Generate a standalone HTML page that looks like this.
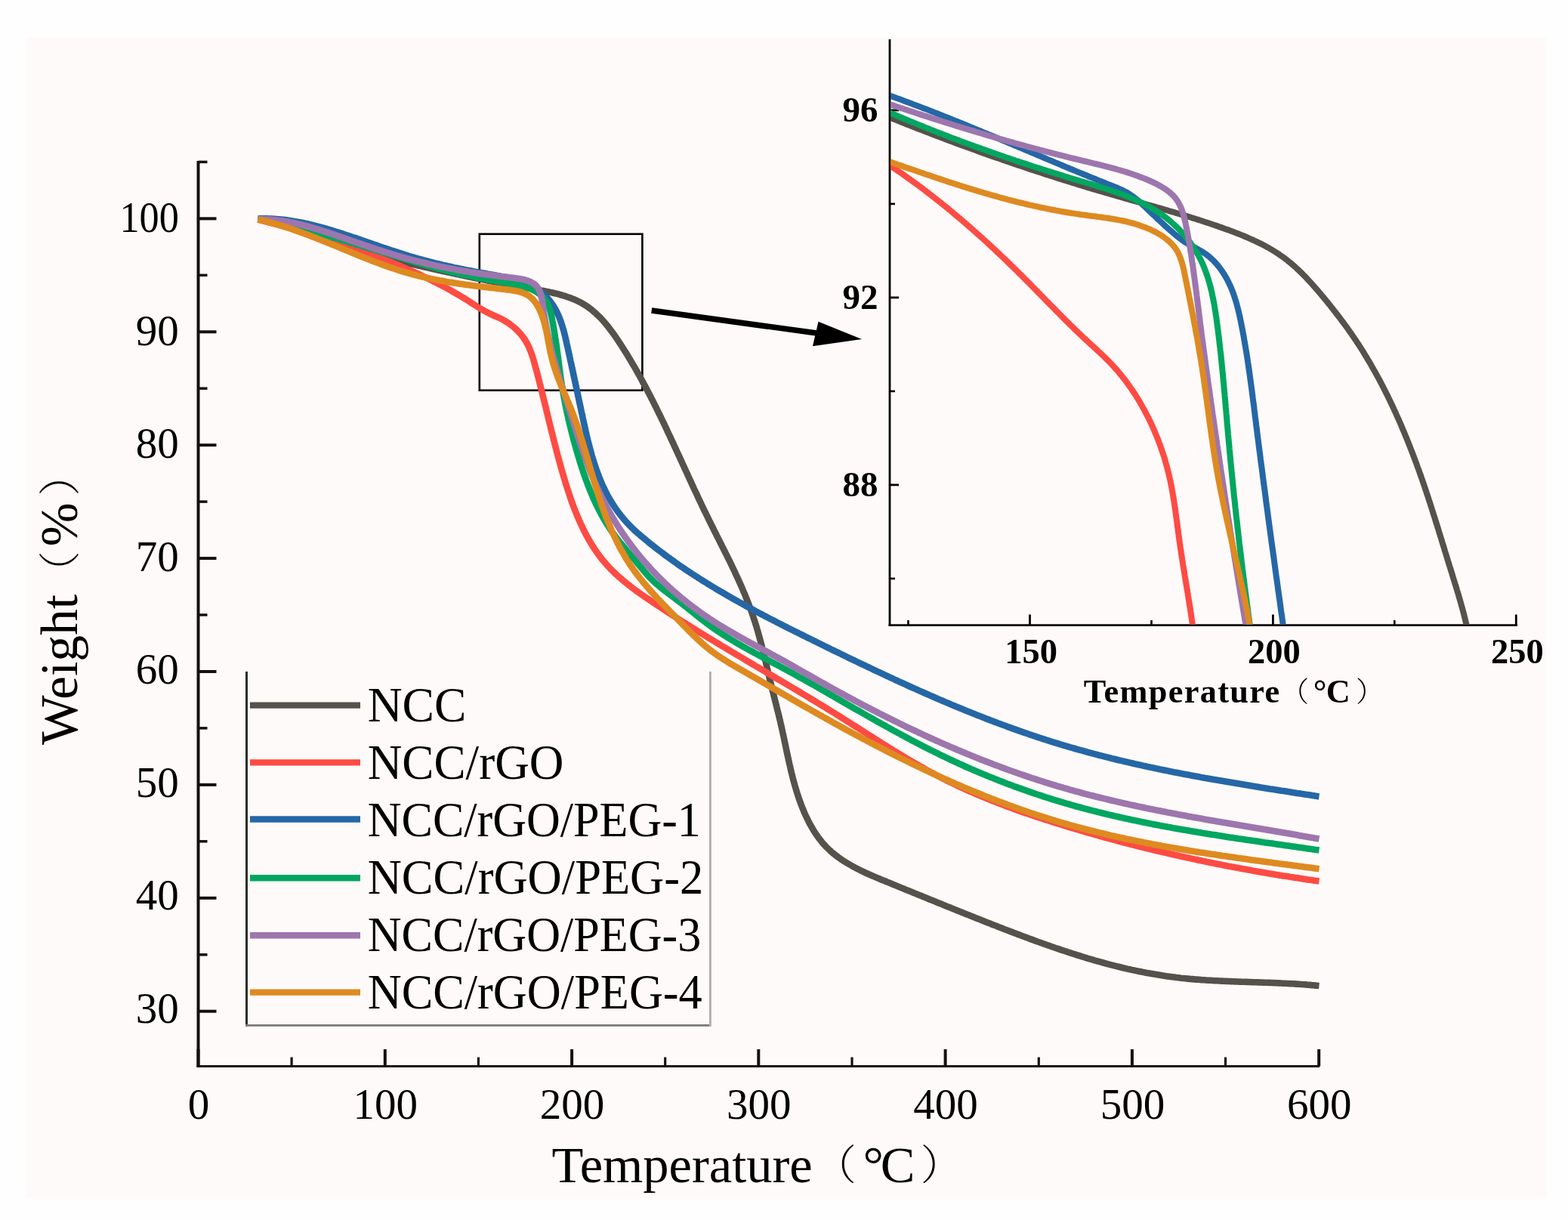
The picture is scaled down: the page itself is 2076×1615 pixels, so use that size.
<!DOCTYPE html><html><head><meta charset="utf-8"><title>TGA curves</title><style>html,body{margin:0;padding:0;background:#fefefe;}svg{display:block}</style></head><body>
<svg width="2076" height="1615" viewBox="0 0 2076 1615">
<rect x="0" y="0" width="2076" height="1615" fill="#fefefe"/>
<rect x="35" y="49" width="2013" height="1537" fill="#fefaf9"/>
<g stroke="#111" fill="none">
<line x1="262.5" y1="213" x2="262.5" y2="1413" stroke-width="4"/>
<line x1="260.5" y1="1411.5" x2="1747" y2="1411.5" stroke-width="3.2"/>
<line x1="262.5" y1="1338.7" x2="286.5" y2="1338.7" stroke-width="4"/>
<line x1="262.5" y1="1263.8" x2="274.5" y2="1263.8" stroke-width="3.5"/>
<line x1="262.5" y1="1188.8" x2="286.5" y2="1188.8" stroke-width="4"/>
<line x1="262.5" y1="1113.8" x2="274.5" y2="1113.8" stroke-width="3.5"/>
<line x1="262.5" y1="1038.9" x2="286.5" y2="1038.9" stroke-width="4"/>
<line x1="262.5" y1="963.9" x2="274.5" y2="963.9" stroke-width="3.5"/>
<line x1="262.5" y1="889.0" x2="286.5" y2="889.0" stroke-width="4"/>
<line x1="262.5" y1="814.0" x2="274.5" y2="814.0" stroke-width="3.5"/>
<line x1="262.5" y1="739.1" x2="286.5" y2="739.1" stroke-width="4"/>
<line x1="262.5" y1="664.1" x2="274.5" y2="664.1" stroke-width="3.5"/>
<line x1="262.5" y1="589.2" x2="286.5" y2="589.2" stroke-width="4"/>
<line x1="262.5" y1="514.2" x2="274.5" y2="514.2" stroke-width="3.5"/>
<line x1="262.5" y1="439.3" x2="286.5" y2="439.3" stroke-width="4"/>
<line x1="262.5" y1="364.3" x2="274.5" y2="364.3" stroke-width="3.5"/>
<line x1="262.5" y1="289.4" x2="286.5" y2="289.4" stroke-width="4"/>
<line x1="262.5" y1="214.4" x2="274.5" y2="214.4" stroke-width="3.5"/>
<line x1="262.5" y1="1411.5" x2="262.5" y2="1389" stroke-width="4"/>
<line x1="386.1" y1="1411.5" x2="386.1" y2="1399.5" stroke-width="3.2"/>
<line x1="509.8" y1="1411.5" x2="509.8" y2="1389" stroke-width="4"/>
<line x1="633.4" y1="1411.5" x2="633.4" y2="1399.5" stroke-width="3.2"/>
<line x1="757.1" y1="1411.5" x2="757.1" y2="1389" stroke-width="4"/>
<line x1="880.7" y1="1411.5" x2="880.7" y2="1399.5" stroke-width="3.2"/>
<line x1="1004.3" y1="1411.5" x2="1004.3" y2="1389" stroke-width="4"/>
<line x1="1128.0" y1="1411.5" x2="1128.0" y2="1399.5" stroke-width="3.2"/>
<line x1="1251.6" y1="1411.5" x2="1251.6" y2="1389" stroke-width="4"/>
<line x1="1375.3" y1="1411.5" x2="1375.3" y2="1399.5" stroke-width="3.2"/>
<line x1="1498.9" y1="1411.5" x2="1498.9" y2="1389" stroke-width="4"/>
<line x1="1622.5" y1="1411.5" x2="1622.5" y2="1399.5" stroke-width="3.2"/>
<line x1="1746.2" y1="1411.5" x2="1746.2" y2="1389" stroke-width="4"/>
</g>
<g font-family="'Liberation Serif','Noto Serif CJK SC',serif" font-size="57" fill="#000">
<text x="236.8" y="1353.8" text-anchor="end" transform="translate(0.00,0) scale(1.0000,1)">30</text>
<text x="236.8" y="1204.3" text-anchor="end" transform="translate(0.00,0) scale(1.0000,1)">40</text>
<text x="236.8" y="1054.8" text-anchor="end" transform="translate(0.00,0) scale(1.0000,1)">50</text>
<text x="236.8" y="905.3" text-anchor="end" transform="translate(0.00,0) scale(1.0000,1)">60</text>
<text x="236.8" y="755.8" text-anchor="end" transform="translate(0.00,0) scale(1.0000,1)">70</text>
<text x="236.8" y="606.3" text-anchor="end" transform="translate(0.00,0) scale(1.0000,1)">80</text>
<text x="236.8" y="456.8" text-anchor="end" transform="translate(0.00,0) scale(1.0000,1)">90</text>
<text x="236.8" y="307.3" text-anchor="end" transform="translate(19.70,0) scale(0.9168,1)">100</text>
</g>
<g font-family="'Liberation Serif','Noto Serif CJK SC',serif" font-size="57" fill="#000" text-anchor="middle">
<text x="263.0" y="1481.3">0</text>
<text x="510.3" y="1481.3">100</text>
<text x="757.6" y="1481.3">200</text>
<text x="1004.8" y="1481.3">300</text>
<text x="1252.1" y="1481.3">400</text>
<text x="1499.4" y="1481.3">500</text>
<text x="1746.7" y="1481.3">600</text>
</g>
<text y="1564.5" font-family="'Liberation Serif','Noto Serif CJK SC',serif" font-size="68.5" fill="#000"><tspan x="730.6">Temperature</tspan><tspan x="1078.7" y="1561.2" font-family="'Noto Serif CJK SC',serif" font-weight="200" font-size="55.0">（</tspan><tspan x="1142.5" y="1564.5">°</tspan><tspan x="1165.8">C</tspan><tspan x="1218.8" y="1561.2" font-family="'Noto Serif CJK SC',serif" font-weight="200" font-size="55.0">）</tspan></text>
<text transform="translate(101.5,988) rotate(-90)" y="0" font-family="'Liberation Serif','Noto Serif CJK SC',serif" font-size="69.5" fill="#000"><tspan x="2.0">Weight</tspan><tspan x="203.0" y="-2.1" font-family="'Noto Serif CJK SC',serif" font-weight="200" font-size="55.7">（</tspan><tspan x="264.7" y="0">%</tspan><tspan x="331.5" y="-2.1" font-family="'Noto Serif CJK SC',serif" font-weight="200" font-size="55.7">）</tspan></text>
<line x1="326.5" y1="889" x2="326.5" y2="1358.5" stroke="#2c2e28" stroke-width="3"/>
<line x1="325" y1="1357.4" x2="940.4" y2="1357.4" stroke="#7a7a74" stroke-width="2.6"/>
<line x1="940.4" y1="889" x2="940.4" y2="1358.7" stroke="#aeaeaa" stroke-width="2.8"/>
<rect x="634.8" y="309.8" width="215.6" height="206.9" fill="none" stroke="#000" stroke-width="2.6"/>
<g fill="none" stroke-width="8.6" stroke-linejoin="round" stroke-linecap="butt">
<path d="M341.5,290.5 L344.5,290.9 L347.5,291.4 L350.4,291.9 L353.4,292.4 L356.4,293.0 L359.3,293.6 L362.2,294.2 L365.1,294.9 L368.0,295.6 L370.9,296.3 L373.8,297.1 L376.7,297.8 L379.6,298.6 L382.5,299.5 L385.3,300.3 L388.2,301.2 L391.0,302.0 L393.9,302.9 L396.7,303.9 L399.5,304.8 L402.4,305.7 L405.2,306.7 L408.0,307.7 L410.9,308.6 L413.7,309.6 L416.5,310.6 L419.3,311.6 L422.1,312.6 L424.9,313.6 L427.7,314.6 L430.6,315.7 L433.4,316.7 L436.2,317.7 L439.0,318.7 L441.8,319.7 L444.6,320.7 L447.5,321.7 L450.3,322.7 L453.1,323.7 L456.0,324.7 L458.8,325.6 L461.7,326.6 L464.5,327.5 L467.4,328.5 L470.2,329.4 L473.1,330.3 L476.0,331.2 L478.8,332.0 L481.7,332.9 L484.6,333.8 L487.5,334.6 L490.4,335.5 L493.3,336.3 L496.2,337.1 L499.1,337.9 L502.0,338.7 L504.9,339.5 L507.8,340.3 L510.7,341.0 L513.6,341.8 L516.5,342.5 L519.4,343.3 L522.3,344.0 L525.3,344.8 L528.2,345.5 L531.1,346.2 L534.0,346.9 L536.9,347.6 L539.9,348.3 L542.8,349.0 L545.7,349.7 L548.6,350.4 L551.5,351.1 L554.5,351.8 L557.4,352.4 L560.3,353.1 L563.2,353.8 L566.1,354.4 L569.0,355.1 L572.0,355.7 L574.9,356.4 L577.8,357.1 L580.7,357.7 L583.6,358.3 L586.5,359.0 L589.4,359.6 L592.3,360.3 L595.2,360.9 L598.2,361.5 L601.1,362.1 L604.0,362.8 L606.9,363.4 L609.8,364.0 L612.7,364.6 L615.6,365.2 L618.6,365.8 L621.5,366.5 L624.4,367.1 L627.3,367.7 L630.2,368.3 L633.2,368.8 L636.1,369.4 L639.0,370.0 L642.0,370.6 L644.9,371.2 L647.8,371.8 L650.8,372.4 L653.7,372.9 L656.7,373.5 L659.6,374.1 L662.6,374.6 L665.5,375.2 L668.5,375.8 L671.5,376.3 L674.4,376.9 L677.4,377.4 L680.4,378.0 L683.4,378.5 L686.4,379.1 L689.4,379.6 L692.4,380.2 L695.4,380.7 L698.4,381.2 L701.4,381.8 L704.4,382.3 L707.5,382.8 L710.5,383.4 L713.5,383.9 L716.5,384.5 L719.5,385.0 L722.5,385.6 L725.5,386.2 L728.5,386.9 L731.5,387.5 L734.4,388.2 L737.4,388.9 L740.3,389.7 L743.2,390.5 L746.0,391.3 L748.9,392.2 L751.7,393.2 L754.4,394.1 L757.2,395.2 L759.9,396.3 L762.5,397.4 L765.1,398.7 L767.7,399.9 L770.3,401.3 L772.7,402.7 L775.2,404.2 L777.6,405.8 L779.9,407.5 L782.2,409.2 L784.4,411.0 L786.6,412.9 L788.8,414.8 L790.9,416.8 L793.0,418.8 L795.1,420.9 L797.1,423.0 L799.0,425.2 L801.0,427.4 L802.9,429.7 L804.8,432.0 L806.6,434.4 L808.4,436.8 L810.2,439.2 L812.0,441.6 L813.8,444.1 L815.5,446.6 L817.2,449.1 L818.9,451.6 L820.5,454.1 L822.2,456.7 L823.8,459.2 L825.5,461.8 L827.1,464.4 L828.7,466.9 L830.3,469.5 L831.8,472.1 L833.4,474.7 L835.0,477.3 L836.5,479.9 L838.0,482.5 L839.6,485.1 L841.1,487.7 L842.6,490.3 L844.1,492.9 L845.5,495.6 L847.0,498.2 L848.5,500.8 L849.9,503.5 L851.3,506.1 L852.8,508.8 L854.2,511.4 L855.6,514.1 L857.0,516.7 L858.4,519.4 L859.8,522.1 L861.2,524.7 L862.5,527.4 L863.9,530.1 L865.3,532.8 L866.6,535.5 L868.0,538.1 L869.3,540.8 L870.6,543.5 L871.9,546.2 L873.3,548.9 L874.6,551.6 L875.9,554.3 L877.2,557.0 L878.5,559.7 L879.8,562.4 L881.1,565.1 L882.4,567.8 L883.6,570.6 L884.9,573.3 L886.2,576.0 L887.5,578.7 L888.7,581.4 L890.0,584.1 L891.3,586.9 L892.5,589.6 L893.8,592.3 L895.0,595.0 L896.3,597.8 L897.6,600.5 L898.8,603.2 L900.1,605.9 L901.3,608.7 L902.6,611.4 L903.8,614.1 L905.1,616.8 L906.3,619.6 L907.6,622.3 L908.8,625.0 L910.1,627.7 L911.3,630.5 L912.6,633.2 L913.8,635.9 L915.1,638.6 L916.3,641.4 L917.6,644.1 L918.8,646.8 L920.1,649.5 L921.4,652.2 L922.7,654.9 L923.9,657.7 L925.2,660.4 L926.5,663.1 L927.8,665.8 L929.1,668.5 L930.3,671.2 L931.6,673.9 L932.9,676.6 L934.3,679.3 L935.6,682.0 L936.9,684.7 L938.2,687.4 L939.5,690.1 L940.9,692.8 L942.2,695.5 L943.6,698.1 L944.9,700.8 L946.2,703.5 L947.6,706.2 L948.9,708.9 L950.3,711.6 L951.6,714.2 L953.0,716.9 L954.3,719.6 L955.7,722.3 L957.0,725.0 L958.4,727.6 L959.7,730.3 L961.1,733.0 L962.4,735.7 L963.7,738.4 L965.1,741.1 L966.4,743.7 L967.7,746.4 L969.0,749.1 L970.3,751.8 L971.6,754.5 L972.9,757.2 L974.1,760.0 L975.4,762.7 L976.7,765.4 L977.9,768.1 L979.1,770.8 L980.4,773.6 L981.6,776.3 L982.8,779.0 L983.9,781.8 L985.1,784.5 L986.3,787.3 L987.4,790.1 L988.5,792.8 L989.6,795.6 L990.7,798.4 L991.8,801.2 L992.9,804.0 L993.9,806.8 L994.9,809.6 L995.9,812.4 L996.9,815.3 L997.8,818.1 L998.8,821.0 L999.7,823.8 L1000.6,826.7 L1001.5,829.6 L1002.3,832.4 L1003.2,835.3 L1004.0,838.2 L1004.8,841.1 L1005.6,844.0 L1006.4,846.9 L1007.2,849.8 L1008.0,852.8 L1008.7,855.7 L1009.4,858.6 L1010.2,861.5 L1010.9,864.5 L1011.6,867.4 L1012.3,870.3 L1013.0,873.3 L1013.8,876.2 L1014.5,879.1 L1015.1,882.1 L1015.8,885.0 L1016.5,887.9 L1017.2,890.9 L1017.9,893.8 L1018.6,896.7 L1019.3,899.7 L1020.0,902.6 L1020.7,905.5 L1021.4,908.4 L1022.2,911.3 L1022.9,914.2 L1023.6,917.1 L1024.3,920.0 L1025.1,922.9 L1025.8,925.8 L1026.5,928.7 L1027.3,931.6 L1028.0,934.5 L1028.7,937.4 L1029.4,940.3 L1030.2,943.2 L1030.9,946.1 L1031.6,949.0 L1032.3,951.9 L1033.0,954.8 L1033.6,957.7 L1034.3,960.6 L1035.0,963.5 L1035.6,966.5 L1036.2,969.4 L1036.9,972.3 L1037.5,975.2 L1038.1,978.1 L1038.7,981.1 L1039.4,984.0 L1040.0,986.9 L1040.6,989.8 L1041.2,992.8 L1041.8,995.7 L1042.4,998.6 L1043.1,1001.6 L1043.7,1004.5 L1044.4,1007.4 L1045.0,1010.4 L1045.7,1013.3 L1046.4,1016.2 L1047.0,1019.1 L1047.7,1022.0 L1048.5,1025.0 L1049.2,1027.9 L1049.9,1030.8 L1050.7,1033.7 L1051.5,1036.6 L1052.3,1039.5 L1053.2,1042.4 L1054.0,1045.3 L1054.9,1048.2 L1055.8,1051.1 L1056.8,1054.0 L1057.7,1056.9 L1058.7,1059.7 L1059.8,1062.6 L1060.8,1065.5 L1061.9,1068.3 L1063.1,1071.1 L1064.2,1073.9 L1065.4,1076.7 L1066.7,1079.5 L1068.0,1082.2 L1069.3,1084.9 L1070.6,1087.6 L1072.0,1090.3 L1073.5,1092.9 L1075.0,1095.5 L1076.5,1098.1 L1078.0,1100.6 L1079.7,1103.1 L1081.3,1105.6 L1083.0,1108.0 L1084.8,1110.4 L1086.6,1112.7 L1088.4,1115.0 L1090.3,1117.2 L1092.3,1119.3 L1094.3,1121.5 L1096.4,1123.5 L1098.5,1125.5 L1100.7,1127.5 L1102.9,1129.4 L1105.1,1131.2 L1107.4,1133.0 L1109.8,1134.8 L1112.2,1136.5 L1114.6,1138.2 L1117.1,1139.8 L1119.6,1141.4 L1122.1,1142.9 L1124.7,1144.4 L1127.3,1145.9 L1129.9,1147.4 L1132.6,1148.8 L1135.3,1150.2 L1138.0,1151.5 L1140.7,1152.9 L1143.4,1154.2 L1146.2,1155.5 L1149.0,1156.7 L1151.8,1158.0 L1154.6,1159.2 L1157.4,1160.4 L1160.2,1161.6 L1163.1,1162.8 L1165.9,1164.0 L1168.7,1165.2 L1171.6,1166.3 L1174.4,1167.5 L1177.3,1168.6 L1180.1,1169.8 L1182.9,1171.0 L1185.8,1172.1 L1188.6,1173.3 L1191.4,1174.4 L1194.2,1175.6 L1197.0,1176.7 L1199.8,1177.9 L1202.6,1179.0 L1205.4,1180.1 L1208.2,1181.3 L1211.0,1182.4 L1213.8,1183.6 L1216.6,1184.7 L1219.4,1185.8 L1222.2,1187.0 L1225.0,1188.1 L1227.8,1189.3 L1230.5,1190.4 L1233.3,1191.5 L1236.1,1192.6 L1238.9,1193.8 L1241.6,1194.9 L1244.4,1196.0 L1247.2,1197.1 L1249.9,1198.3 L1252.7,1199.4 L1255.5,1200.5 L1258.2,1201.6 L1261.0,1202.7 L1263.8,1203.9 L1266.5,1205.0 L1269.3,1206.1 L1272.0,1207.2 L1274.8,1208.3 L1277.6,1209.4 L1280.3,1210.5 L1283.1,1211.6 L1285.9,1212.7 L1288.6,1213.8 L1291.4,1214.9 L1294.1,1216.0 L1296.9,1217.1 L1299.7,1218.2 L1302.4,1219.3 L1305.2,1220.4 L1308.0,1221.5 L1310.8,1222.6 L1313.5,1223.7 L1316.3,1224.8 L1319.1,1225.8 L1321.9,1226.9 L1324.6,1228.0 L1327.4,1229.1 L1330.2,1230.2 L1333.0,1231.2 L1335.8,1232.3 L1338.6,1233.4 L1341.4,1234.4 L1344.2,1235.5 L1347.0,1236.6 L1349.8,1237.6 L1352.6,1238.7 L1355.4,1239.7 L1358.2,1240.8 L1361.0,1241.8 L1363.8,1242.9 L1366.6,1243.9 L1369.4,1244.9 L1372.2,1246.0 L1375.1,1247.0 L1377.9,1248.0 L1380.7,1249.0 L1383.5,1250.0 L1386.4,1251.0 L1389.2,1252.0 L1392.0,1253.0 L1394.9,1254.0 L1397.7,1255.0 L1400.6,1255.9 L1403.4,1256.9 L1406.2,1257.8 L1409.1,1258.8 L1411.9,1259.7 L1414.8,1260.7 L1417.7,1261.6 L1420.5,1262.5 L1423.4,1263.4 L1426.2,1264.3 L1429.1,1265.2 L1432.0,1266.1 L1434.8,1267.0 L1437.7,1267.9 L1440.6,1268.8 L1443.5,1269.6 L1446.3,1270.4 L1449.2,1271.3 L1452.1,1272.1 L1455.0,1272.9 L1457.9,1273.7 L1460.8,1274.5 L1463.7,1275.3 L1466.6,1276.1 L1469.5,1276.9 L1472.4,1277.6 L1475.3,1278.4 L1478.2,1279.1 L1481.1,1279.8 L1484.0,1280.5 L1486.9,1281.2 L1489.8,1281.9 L1492.8,1282.6 L1495.7,1283.2 L1498.6,1283.9 L1501.5,1284.5 L1504.5,1285.1 L1507.4,1285.7 L1510.3,1286.3 L1513.3,1286.9 L1516.2,1287.5 L1519.1,1288.1 L1522.1,1288.6 L1525.0,1289.1 L1528.0,1289.6 L1530.9,1290.1 L1533.9,1290.6 L1536.9,1291.1 L1539.8,1291.6 L1542.8,1292.0 L1545.7,1292.4 L1548.7,1292.8 L1551.7,1293.2 L1554.7,1293.6 L1557.6,1294.0 L1560.6,1294.3 L1563.6,1294.7 L1566.6,1295.0 L1569.6,1295.3 L1572.6,1295.6 L1575.6,1295.9 L1578.5,1296.1 L1581.5,1296.4 L1584.5,1296.6 L1587.5,1296.8 L1590.5,1297.1 L1593.5,1297.3 L1596.5,1297.5 L1599.5,1297.7 L1602.6,1297.8 L1605.6,1298.0 L1608.6,1298.2 L1611.6,1298.3 L1614.6,1298.5 L1617.6,1298.6 L1620.6,1298.8 L1623.6,1298.9 L1626.6,1299.0 L1629.7,1299.1 L1632.7,1299.3 L1635.7,1299.4 L1638.7,1299.5 L1641.7,1299.6 L1644.7,1299.7 L1647.7,1299.8 L1650.7,1299.9 L1653.8,1300.0 L1656.8,1300.1 L1659.8,1300.2 L1662.8,1300.3 L1665.8,1300.4 L1668.8,1300.5 L1671.8,1300.6 L1674.8,1300.7 L1677.8,1300.8 L1680.8,1300.9 L1683.9,1301.0 L1686.9,1301.1 L1689.9,1301.3 L1692.9,1301.4 L1695.9,1301.5 L1698.9,1301.7 L1701.9,1301.8 L1704.8,1302.0 L1707.8,1302.1 L1710.8,1302.3 L1713.8,1302.4 L1716.8,1302.6 L1719.8,1302.8 L1722.8,1303.0 L1725.7,1303.2 L1728.7,1303.4 L1731.7,1303.7 L1734.7,1303.9 L1737.6,1304.2 L1740.6,1304.4 L1743.5,1304.7 L1746.5,1305.0" stroke="#57514b"/>
<path d="M341.5,290.5 L344.4,291.2 L347.3,292.0 L350.2,292.8 L353.1,293.5 L355.9,294.3 L358.8,295.1 L361.7,295.9 L364.6,296.6 L367.5,297.4 L370.4,298.2 L373.3,299.0 L376.2,299.8 L379.0,300.6 L381.9,301.4 L384.8,302.2 L387.7,303.1 L390.6,303.9 L393.4,304.7 L396.3,305.6 L399.2,306.4 L402.1,307.2 L405.0,308.1 L407.8,308.9 L410.7,309.8 L413.6,310.7 L416.4,311.5 L419.3,312.4 L422.2,313.3 L425.0,314.2 L427.9,315.1 L430.8,316.0 L433.6,316.9 L436.5,317.8 L439.3,318.7 L442.2,319.6 L445.0,320.5 L447.9,321.5 L450.7,322.4 L453.6,323.4 L456.4,324.3 L459.2,325.3 L462.1,326.3 L464.9,327.2 L467.7,328.2 L470.6,329.2 L473.4,330.2 L476.2,331.2 L479.0,332.2 L481.8,333.3 L484.7,334.3 L487.5,335.3 L490.3,336.4 L493.1,337.4 L495.9,338.5 L498.7,339.5 L501.5,340.6 L504.3,341.7 L507.0,342.8 L509.8,343.9 L512.6,345.0 L515.4,346.1 L518.1,347.2 L520.9,348.4 L523.7,349.5 L526.4,350.7 L529.2,351.8 L531.9,353.0 L534.7,354.2 L537.4,355.4 L540.2,356.6 L542.9,357.8 L545.6,359.0 L548.4,360.2 L551.1,361.4 L553.8,362.7 L556.5,363.9 L559.2,365.2 L561.9,366.5 L564.6,367.8 L567.3,369.1 L570.0,370.4 L572.6,371.7 L575.3,373.1 L578.0,374.4 L580.6,375.8 L583.3,377.1 L585.9,378.5 L588.6,379.9 L591.2,381.4 L593.8,382.8 L596.4,384.2 L599.0,385.7 L601.6,387.2 L604.2,388.7 L606.8,390.2 L609.4,391.7 L612.0,393.3 L614.5,394.8 L617.1,396.4 L619.6,398.0 L622.1,399.6 L624.7,401.3 L627.2,402.9 L629.7,404.5 L632.3,406.1 L634.8,407.7 L637.4,409.2 L640.0,410.7 L642.6,412.2 L645.3,413.6 L648.0,415.0 L650.7,416.2 L653.5,417.5 L656.2,418.7 L659.0,419.9 L661.7,421.2 L664.4,422.5 L667.1,424.0 L669.6,425.5 L672.2,427.1 L674.6,428.8 L677.0,430.6 L679.4,432.4 L681.6,434.4 L683.8,436.4 L685.9,438.5 L687.9,440.6 L689.9,442.9 L691.7,445.2 L693.5,447.6 L695.1,450.0 L696.6,452.5 L698.1,455.1 L699.4,457.7 L700.7,460.4 L701.8,463.2 L702.9,466.0 L703.9,468.8 L704.9,471.6 L705.8,474.5 L706.7,477.4 L707.5,480.3 L708.3,483.3 L709.1,486.2 L709.9,489.1 L710.7,492.0 L711.4,495.0 L712.2,497.9 L713.0,500.8 L713.7,503.7 L714.4,506.6 L715.2,509.6 L715.9,512.5 L716.7,515.4 L717.4,518.3 L718.1,521.2 L718.8,524.1 L719.5,527.0 L720.2,529.9 L721.0,532.8 L721.7,535.7 L722.4,538.6 L723.1,541.5 L723.8,544.4 L724.5,547.2 L725.2,550.1 L725.9,553.0 L726.6,555.9 L727.3,558.8 L728.0,561.7 L728.7,564.6 L729.4,567.5 L730.1,570.4 L730.9,573.2 L731.6,576.1 L732.3,579.0 L733.0,581.9 L733.8,584.8 L734.5,587.7 L735.2,590.5 L736.0,593.4 L736.7,596.3 L737.5,599.2 L738.2,602.1 L739.0,605.0 L739.8,607.9 L740.6,610.8 L741.4,613.6 L742.2,616.5 L743.0,619.4 L743.8,622.3 L744.6,625.2 L745.5,628.1 L746.3,631.0 L747.2,633.9 L748.1,636.8 L748.9,639.7 L749.8,642.6 L750.7,645.5 L751.7,648.4 L752.6,651.3 L753.6,654.1 L754.5,657.0 L755.5,659.9 L756.5,662.7 L757.5,665.6 L758.6,668.4 L759.6,671.3 L760.7,674.1 L761.8,676.9 L763.0,679.7 L764.1,682.5 L765.3,685.3 L766.5,688.0 L767.7,690.8 L768.9,693.5 L770.2,696.2 L771.5,698.9 L772.8,701.6 L774.1,704.3 L775.5,706.9 L776.9,709.6 L778.4,712.2 L779.8,714.8 L781.3,717.3 L782.8,719.9 L784.4,722.4 L786.0,724.9 L787.6,727.3 L789.3,729.8 L791.0,732.2 L792.7,734.6 L794.5,736.9 L796.3,739.3 L798.1,741.6 L800.0,743.8 L801.9,746.1 L803.8,748.3 L805.8,750.4 L807.9,752.6 L809.9,754.7 L812.0,756.8 L814.2,758.8 L816.4,760.9 L818.6,762.9 L820.8,764.8 L823.1,766.8 L825.3,768.7 L827.7,770.6 L830.0,772.5 L832.4,774.4 L834.7,776.2 L837.1,778.1 L839.5,779.9 L842.0,781.7 L844.4,783.4 L846.9,785.2 L849.4,787.0 L851.9,788.7 L854.3,790.4 L856.8,792.1 L859.4,793.9 L861.9,795.6 L864.4,797.3 L866.9,798.9 L869.4,800.6 L871.9,802.3 L874.5,804.0 L877.0,805.6 L879.5,807.3 L882.0,809.0 L884.6,810.6 L887.1,812.3 L889.6,813.9 L892.2,815.5 L894.7,817.2 L897.2,818.8 L899.8,820.4 L902.3,822.0 L904.9,823.6 L907.4,825.2 L910.0,826.8 L912.5,828.4 L915.0,830.0 L917.6,831.6 L920.1,833.2 L922.7,834.8 L925.2,836.4 L927.8,838.0 L930.4,839.5 L932.9,841.1 L935.5,842.7 L938.0,844.2 L940.6,845.8 L943.1,847.3 L945.7,848.9 L948.3,850.5 L950.8,852.0 L953.4,853.5 L955.9,855.1 L958.5,856.6 L961.1,858.2 L963.6,859.7 L966.2,861.2 L968.8,862.8 L971.3,864.3 L973.9,865.8 L976.5,867.4 L979.0,868.9 L981.6,870.4 L984.2,871.9 L986.7,873.5 L989.3,875.0 L991.9,876.5 L994.4,878.0 L997.0,879.5 L999.6,881.1 L1002.2,882.6 L1004.7,884.1 L1007.3,885.6 L1009.9,887.1 L1012.4,888.6 L1015.0,890.2 L1017.6,891.7 L1020.1,893.2 L1022.7,894.7 L1025.3,896.2 L1027.8,897.7 L1030.4,899.3 L1033.0,900.8 L1035.5,902.3 L1038.1,903.8 L1040.7,905.3 L1043.2,906.9 L1045.8,908.4 L1048.4,909.9 L1050.9,911.4 L1053.5,913.0 L1056.1,914.5 L1058.6,916.0 L1061.2,917.5 L1063.7,919.1 L1066.3,920.6 L1068.9,922.1 L1071.4,923.7 L1074.0,925.2 L1076.5,926.8 L1079.1,928.3 L1081.6,929.9 L1084.2,931.4 L1086.8,933.0 L1089.3,934.5 L1091.9,936.1 L1094.4,937.7 L1096.9,939.2 L1099.5,940.8 L1102.0,942.4 L1104.6,943.9 L1107.1,945.5 L1109.7,947.1 L1112.2,948.7 L1114.7,950.3 L1117.3,951.9 L1119.8,953.5 L1122.3,955.1 L1124.9,956.7 L1127.4,958.3 L1129.9,959.9 L1132.5,961.5 L1135.0,963.1 L1137.5,964.7 L1140.1,966.3 L1142.6,967.9 L1145.1,969.6 L1147.7,971.2 L1150.2,972.8 L1152.7,974.4 L1155.3,976.0 L1157.8,977.6 L1160.3,979.2 L1162.9,980.8 L1165.4,982.4 L1167.9,984.0 L1170.5,985.6 L1173.0,987.2 L1175.6,988.8 L1178.1,990.4 L1180.7,992.0 L1183.2,993.6 L1185.8,995.1 L1188.3,996.7 L1190.9,998.3 L1193.5,999.8 L1196.0,1001.4 L1198.6,1002.9 L1201.2,1004.4 L1203.8,1006.0 L1206.3,1007.5 L1208.9,1009.0 L1211.5,1010.5 L1214.1,1012.0 L1216.7,1013.5 L1219.3,1015.0 L1221.9,1016.4 L1224.5,1017.9 L1227.2,1019.4 L1229.8,1020.8 L1232.4,1022.2 L1235.0,1023.6 L1237.7,1025.1 L1240.3,1026.5 L1243.0,1027.8 L1245.6,1029.2 L1248.3,1030.6 L1251.0,1031.9 L1253.6,1033.3 L1256.3,1034.6 L1259.0,1035.9 L1261.7,1037.2 L1264.4,1038.5 L1267.1,1039.8 L1269.8,1041.0 L1272.5,1042.3 L1275.2,1043.5 L1277.9,1044.8 L1280.7,1046.0 L1283.4,1047.2 L1286.1,1048.4 L1288.9,1049.6 L1291.6,1050.8 L1294.4,1052.0 L1297.1,1053.1 L1299.9,1054.3 L1302.7,1055.4 L1305.4,1056.6 L1308.2,1057.7 L1311.0,1058.8 L1313.8,1059.9 L1316.6,1061.0 L1319.3,1062.1 L1322.1,1063.2 L1324.9,1064.3 L1327.7,1065.3 L1330.5,1066.4 L1333.3,1067.5 L1336.2,1068.5 L1339.0,1069.5 L1341.8,1070.6 L1344.6,1071.6 L1347.4,1072.6 L1350.3,1073.6 L1353.1,1074.6 L1355.9,1075.6 L1358.7,1076.6 L1361.6,1077.5 L1364.4,1078.5 L1367.3,1079.5 L1370.1,1080.4 L1373.0,1081.4 L1375.8,1082.3 L1378.7,1083.2 L1381.5,1084.2 L1384.4,1085.1 L1387.2,1086.0 L1390.1,1086.9 L1392.9,1087.8 L1395.8,1088.8 L1398.7,1089.7 L1401.5,1090.5 L1404.4,1091.4 L1407.3,1092.3 L1410.1,1093.2 L1413.0,1094.1 L1415.9,1095.0 L1418.7,1095.8 L1421.6,1096.7 L1424.5,1097.5 L1427.4,1098.4 L1430.2,1099.2 L1433.1,1100.1 L1436.0,1100.9 L1438.9,1101.8 L1441.7,1102.6 L1444.6,1103.4 L1447.5,1104.2 L1450.4,1105.1 L1453.3,1105.9 L1456.2,1106.7 L1459.1,1107.5 L1461.9,1108.3 L1464.8,1109.1 L1467.7,1109.9 L1470.6,1110.7 L1473.5,1111.4 L1476.4,1112.2 L1479.3,1113.0 L1482.2,1113.8 L1485.1,1114.5 L1488.0,1115.3 L1490.9,1116.0 L1493.8,1116.8 L1496.7,1117.5 L1499.6,1118.3 L1502.5,1119.0 L1505.4,1119.8 L1508.3,1120.5 L1511.2,1121.2 L1514.1,1121.9 L1517.0,1122.7 L1519.9,1123.4 L1522.8,1124.1 L1525.7,1124.8 L1528.7,1125.5 L1531.6,1126.2 L1534.5,1126.9 L1537.4,1127.6 L1540.3,1128.3 L1543.2,1128.9 L1546.2,1129.6 L1549.1,1130.3 L1552.0,1130.9 L1554.9,1131.6 L1557.8,1132.3 L1560.8,1132.9 L1563.7,1133.6 L1566.6,1134.2 L1569.5,1134.9 L1572.5,1135.5 L1575.4,1136.1 L1578.3,1136.8 L1581.2,1137.4 L1584.2,1138.0 L1587.1,1138.7 L1590.0,1139.3 L1593.0,1139.9 L1595.9,1140.5 L1598.8,1141.1 L1601.8,1141.7 L1604.7,1142.3 L1607.6,1142.9 L1610.6,1143.5 L1613.5,1144.1 L1616.5,1144.6 L1619.4,1145.2 L1622.3,1145.8 L1625.3,1146.4 L1628.2,1146.9 L1631.2,1147.5 L1634.1,1148.0 L1637.0,1148.6 L1640.0,1149.1 L1642.9,1149.7 L1645.9,1150.2 L1648.8,1150.8 L1651.8,1151.3 L1654.7,1151.8 L1657.7,1152.4 L1660.6,1152.9 L1663.6,1153.4 L1666.5,1153.9 L1669.5,1154.4 L1672.4,1154.9 L1675.4,1155.4 L1678.4,1156.0 L1681.3,1156.4 L1684.3,1156.9 L1687.2,1157.4 L1690.2,1157.9 L1693.1,1158.4 L1696.1,1158.9 L1699.1,1159.4 L1702.0,1159.8 L1705.0,1160.3 L1707.9,1160.8 L1710.9,1161.2 L1713.9,1161.7 L1716.8,1162.1 L1719.8,1162.6 L1722.8,1163.0 L1725.7,1163.5 L1728.7,1163.9 L1731.7,1164.4 L1734.6,1164.8 L1737.6,1165.2 L1740.6,1165.7 L1743.5,1166.1 L1746.5,1166.5" stroke="#fe4b43"/>
<path d="M341.5,289.5 L344.6,289.4 L347.6,289.4 L350.7,289.4 L353.7,289.4 L356.7,289.5 L359.7,289.6 L362.7,289.8 L365.7,290.0 L368.7,290.2 L371.7,290.5 L374.7,290.8 L377.6,291.1 L380.6,291.5 L383.5,291.9 L386.5,292.4 L389.4,292.9 L392.3,293.4 L395.3,293.9 L398.2,294.4 L401.1,295.0 L404.0,295.7 L406.9,296.3 L409.8,297.0 L412.7,297.6 L415.6,298.4 L418.5,299.1 L421.3,299.8 L424.2,300.6 L427.1,301.4 L430.0,302.2 L432.8,303.0 L435.7,303.9 L438.5,304.7 L441.4,305.6 L444.3,306.5 L447.1,307.4 L450.0,308.3 L452.8,309.2 L455.7,310.2 L458.5,311.1 L461.4,312.0 L464.3,313.0 L467.1,314.0 L470.0,314.9 L472.8,315.9 L475.7,316.9 L478.5,317.9 L481.4,318.8 L484.2,319.8 L487.1,320.8 L490.0,321.8 L492.8,322.8 L495.7,323.8 L498.5,324.7 L501.4,325.7 L504.2,326.7 L507.1,327.7 L509.9,328.6 L512.8,329.6 L515.6,330.5 L518.5,331.5 L521.3,332.4 L524.2,333.4 L527.0,334.3 L529.9,335.2 L532.7,336.1 L535.6,337.0 L538.4,337.9 L541.2,338.8 L544.1,339.6 L546.9,340.5 L549.8,341.3 L552.6,342.1 L555.4,342.9 L558.3,343.7 L561.1,344.5 L564.0,345.2 L566.8,346.0 L569.7,346.7 L572.5,347.4 L575.4,348.1 L578.2,348.8 L581.1,349.5 L583.9,350.2 L586.8,350.9 L589.7,351.5 L592.5,352.2 L595.4,352.8 L598.3,353.4 L601.2,354.1 L604.1,354.7 L607.0,355.3 L610.0,355.9 L612.9,356.5 L615.8,357.1 L618.8,357.7 L621.8,358.2 L624.7,358.8 L627.7,359.4 L630.7,359.9 L633.7,360.5 L636.7,361.0 L639.8,361.6 L642.8,362.1 L645.9,362.7 L649.0,363.2 L652.0,363.8 L655.1,364.3 L658.2,364.9 L661.2,365.5 L664.3,366.1 L667.3,366.8 L670.4,367.5 L673.4,368.2 L676.4,368.9 L679.3,369.7 L682.3,370.5 L685.2,371.4 L688.0,372.3 L690.9,373.3 L693.7,374.3 L696.4,375.4 L699.1,376.6 L701.7,377.8 L704.3,379.1 L706.9,380.4 L709.3,381.9 L711.8,383.4 L714.1,385.0 L716.4,386.7 L718.6,388.5 L720.7,390.4 L722.7,392.4 L724.7,394.5 L726.6,396.6 L728.4,398.9 L730.1,401.2 L731.8,403.6 L733.4,406.1 L734.9,408.6 L736.3,411.2 L737.6,413.9 L738.9,416.6 L740.1,419.3 L741.2,422.1 L742.3,425.0 L743.3,427.9 L744.2,430.8 L745.1,433.7 L746.0,436.7 L746.8,439.7 L747.5,442.7 L748.3,445.7 L749.0,448.7 L749.7,451.7 L750.3,454.7 L751.0,457.7 L751.7,460.7 L752.3,463.7 L753.0,466.6 L753.6,469.6 L754.3,472.5 L754.9,475.5 L755.5,478.4 L756.2,481.3 L756.8,484.2 L757.4,487.1 L758.1,490.0 L758.7,492.9 L759.3,495.8 L759.9,498.7 L760.5,501.6 L761.2,504.5 L761.8,507.3 L762.4,510.2 L763.0,513.1 L763.6,516.0 L764.3,518.8 L764.9,521.7 L765.5,524.6 L766.1,527.5 L766.7,530.4 L767.3,533.3 L768.0,536.2 L768.6,539.1 L769.2,542.0 L769.8,544.9 L770.5,547.8 L771.1,550.8 L771.7,553.7 L772.4,556.7 L773.0,559.6 L773.6,562.6 L774.3,565.5 L775.0,568.5 L775.6,571.4 L776.3,574.4 L777.0,577.4 L777.7,580.3 L778.4,583.3 L779.2,586.3 L779.9,589.2 L780.7,592.2 L781.5,595.1 L782.3,598.0 L783.1,601.0 L783.9,603.9 L784.8,606.8 L785.7,609.7 L786.6,612.6 L787.5,615.5 L788.5,618.4 L789.4,621.2 L790.5,624.1 L791.5,626.9 L792.6,629.7 L793.7,632.5 L794.8,635.3 L795.9,638.1 L797.1,640.8 L798.4,643.5 L799.6,646.2 L800.9,648.9 L802.2,651.6 L803.6,654.2 L805.0,656.8 L806.5,659.4 L808.0,662.0 L809.5,664.5 L811.0,667.0 L812.7,669.5 L814.3,672.0 L816.0,674.4 L817.7,676.8 L819.5,679.2 L821.3,681.5 L823.1,683.8 L825.0,686.1 L826.9,688.3 L828.9,690.6 L830.9,692.7 L832.9,694.9 L835.0,697.0 L837.1,699.1 L839.3,701.2 L841.5,703.2 L843.7,705.2 L845.9,707.1 L848.2,709.1 L850.5,711.0 L852.8,712.9 L855.1,714.8 L857.4,716.7 L859.7,718.6 L862.0,720.5 L864.4,722.3 L866.7,724.2 L869.1,726.0 L871.4,727.8 L873.8,729.6 L876.2,731.4 L878.6,733.2 L880.9,735.0 L883.3,736.8 L885.8,738.5 L888.2,740.3 L890.6,742.0 L893.0,743.8 L895.5,745.5 L897.9,747.2 L900.3,748.9 L902.8,750.6 L905.3,752.2 L907.7,753.9 L910.2,755.6 L912.7,757.2 L915.2,758.9 L917.7,760.5 L920.2,762.1 L922.7,763.7 L925.2,765.4 L927.7,767.0 L930.2,768.5 L932.8,770.1 L935.3,771.7 L937.8,773.3 L940.4,774.8 L942.9,776.4 L945.5,777.9 L948.0,779.5 L950.6,781.0 L953.2,782.5 L955.8,784.0 L958.3,785.5 L960.9,787.0 L963.5,788.5 L966.1,790.0 L968.7,791.5 L971.3,793.0 L973.9,794.5 L976.5,795.9 L979.1,797.4 L981.8,798.8 L984.4,800.3 L987.0,801.7 L989.6,803.2 L992.3,804.6 L994.9,806.0 L997.5,807.4 L1000.2,808.9 L1002.8,810.3 L1005.5,811.7 L1008.1,813.1 L1010.8,814.5 L1013.4,815.9 L1016.1,817.3 L1018.8,818.7 L1021.4,820.0 L1024.1,821.4 L1026.8,822.8 L1029.4,824.2 L1032.1,825.5 L1034.8,826.9 L1037.5,828.3 L1040.2,829.6 L1042.8,831.0 L1045.5,832.3 L1048.2,833.7 L1050.9,835.0 L1053.6,836.4 L1056.3,837.7 L1059.0,839.0 L1061.7,840.4 L1064.3,841.7 L1067.0,843.0 L1069.7,844.4 L1072.4,845.7 L1075.1,847.0 L1077.8,848.4 L1080.5,849.7 L1083.2,851.0 L1085.9,852.3 L1088.6,853.7 L1091.3,855.0 L1094.0,856.3 L1096.7,857.6 L1099.4,859.0 L1102.1,860.3 L1104.8,861.6 L1107.5,862.9 L1110.2,864.2 L1112.9,865.5 L1115.6,866.8 L1118.3,868.2 L1121.0,869.5 L1123.7,870.8 L1126.4,872.1 L1129.1,873.4 L1131.8,874.7 L1134.5,876.0 L1137.2,877.3 L1140.0,878.6 L1142.7,879.9 L1145.4,881.2 L1148.1,882.5 L1150.8,883.7 L1153.5,885.0 L1156.2,886.3 L1158.9,887.6 L1161.6,888.9 L1164.4,890.1 L1167.1,891.4 L1169.8,892.7 L1172.5,894.0 L1175.2,895.2 L1177.9,896.5 L1180.7,897.7 L1183.4,899.0 L1186.1,900.3 L1188.8,901.5 L1191.5,902.8 L1194.3,904.0 L1197.0,905.2 L1199.7,906.5 L1202.4,907.7 L1205.2,909.0 L1207.9,910.2 L1210.6,911.4 L1213.4,912.6 L1216.1,913.9 L1218.8,915.1 L1221.6,916.3 L1224.3,917.5 L1227.1,918.7 L1229.8,919.9 L1232.5,921.1 L1235.3,922.3 L1238.0,923.5 L1240.8,924.7 L1243.5,925.9 L1246.3,927.0 L1249.0,928.2 L1251.8,929.4 L1254.5,930.6 L1257.3,931.7 L1260.0,932.9 L1262.8,934.0 L1265.5,935.2 L1268.3,936.3 L1271.1,937.5 L1273.8,938.6 L1276.6,939.7 L1279.4,940.9 L1282.1,942.0 L1284.9,943.1 L1287.7,944.2 L1290.4,945.3 L1293.2,946.4 L1296.0,947.5 L1298.8,948.6 L1301.6,949.7 L1304.3,950.8 L1307.1,951.9 L1309.9,952.9 L1312.7,954.0 L1315.5,955.1 L1318.3,956.1 L1321.1,957.2 L1323.9,958.2 L1326.7,959.3 L1329.5,960.3 L1332.3,961.3 L1335.1,962.4 L1337.9,963.4 L1340.7,964.4 L1343.5,965.4 L1346.3,966.4 L1349.1,967.4 L1351.9,968.4 L1354.8,969.4 L1357.6,970.3 L1360.4,971.3 L1363.2,972.3 L1366.1,973.2 L1368.9,974.2 L1371.7,975.1 L1374.6,976.1 L1377.4,977.0 L1380.2,977.9 L1383.1,978.8 L1385.9,979.8 L1388.8,980.7 L1391.6,981.6 L1394.5,982.5 L1397.3,983.3 L1400.2,984.2 L1403.1,985.1 L1405.9,986.0 L1408.8,986.8 L1411.6,987.7 L1414.5,988.5 L1417.4,989.4 L1420.3,990.2 L1423.1,991.0 L1426.0,991.8 L1428.9,992.6 L1431.8,993.4 L1434.7,994.2 L1437.6,995.0 L1440.5,995.8 L1443.3,996.6 L1446.2,997.4 L1449.1,998.1 L1452.0,998.9 L1454.9,999.7 L1457.8,1000.4 L1460.7,1001.1 L1463.7,1001.9 L1466.6,1002.6 L1469.5,1003.3 L1472.4,1004.1 L1475.3,1004.8 L1478.2,1005.5 L1481.1,1006.2 L1484.1,1006.9 L1487.0,1007.6 L1489.9,1008.3 L1492.8,1008.9 L1495.7,1009.6 L1498.7,1010.3 L1501.6,1011.0 L1504.5,1011.6 L1507.5,1012.3 L1510.4,1012.9 L1513.3,1013.6 L1516.3,1014.2 L1519.2,1014.9 L1522.1,1015.5 L1525.1,1016.1 L1528.0,1016.7 L1531.0,1017.4 L1533.9,1018.0 L1536.9,1018.6 L1539.8,1019.2 L1542.7,1019.8 L1545.7,1020.4 L1548.6,1021.0 L1551.6,1021.6 L1554.5,1022.2 L1557.5,1022.7 L1560.4,1023.3 L1563.4,1023.9 L1566.3,1024.5 L1569.3,1025.0 L1572.2,1025.6 L1575.2,1026.1 L1578.2,1026.7 L1581.1,1027.3 L1584.1,1027.8 L1587.0,1028.3 L1590.0,1028.9 L1592.9,1029.4 L1595.9,1030.0 L1598.9,1030.5 L1601.8,1031.0 L1604.8,1031.5 L1607.7,1032.1 L1610.7,1032.6 L1613.7,1033.1 L1616.6,1033.6 L1619.6,1034.1 L1622.5,1034.6 L1625.5,1035.1 L1628.5,1035.6 L1631.4,1036.1 L1634.4,1036.6 L1637.3,1037.1 L1640.3,1037.6 L1643.3,1038.1 L1646.2,1038.6 L1649.2,1039.1 L1652.1,1039.6 L1655.1,1040.1 L1658.1,1040.6 L1661.0,1041.0 L1664.0,1041.5 L1666.9,1042.0 L1669.9,1042.5 L1672.8,1042.9 L1675.8,1043.4 L1678.8,1043.9 L1681.7,1044.4 L1684.7,1044.8 L1687.6,1045.3 L1690.6,1045.7 L1693.5,1046.2 L1696.5,1046.7 L1699.4,1047.1 L1702.4,1047.6 L1705.3,1048.1 L1708.3,1048.5 L1711.2,1049.0 L1714.2,1049.4 L1717.1,1049.9 L1720.1,1050.3 L1723.0,1050.8 L1725.9,1051.2 L1728.9,1051.7 L1731.8,1052.1 L1734.8,1052.6 L1737.7,1053.1 L1740.6,1053.5 L1743.6,1054.0 L1746.5,1054.4" stroke="#2567a6"/>
<path d="M341.5,290.0 L344.5,290.5 L347.4,291.1 L350.4,291.7 L353.3,292.2 L356.3,292.8 L359.2,293.4 L362.2,294.1 L365.1,294.7 L368.0,295.3 L371.0,296.0 L373.9,296.6 L376.8,297.3 L379.7,298.0 L382.7,298.6 L385.6,299.3 L388.5,300.0 L391.4,300.7 L394.3,301.5 L397.2,302.2 L400.1,302.9 L403.0,303.7 L405.9,304.4 L408.8,305.2 L411.7,306.0 L414.6,306.7 L417.4,307.5 L420.3,308.3 L423.2,309.1 L426.1,309.9 L429.0,310.7 L431.8,311.5 L434.7,312.3 L437.6,313.2 L440.5,314.0 L443.3,314.8 L446.2,315.7 L449.1,316.5 L451.9,317.3 L454.8,318.2 L457.7,319.0 L460.5,319.9 L463.4,320.8 L466.3,321.6 L469.1,322.5 L472.0,323.3 L474.8,324.2 L477.7,325.1 L480.6,326.0 L483.4,326.8 L486.3,327.7 L489.2,328.6 L492.0,329.5 L494.9,330.3 L497.8,331.2 L500.6,332.1 L503.5,333.0 L506.4,333.9 L509.2,334.7 L512.1,335.6 L515.0,336.5 L517.8,337.4 L520.7,338.2 L523.6,339.1 L526.5,340.0 L529.3,340.9 L532.2,341.7 L535.1,342.6 L538.0,343.4 L540.9,344.3 L543.8,345.2 L546.7,346.0 L549.5,346.9 L552.4,347.7 L555.3,348.5 L558.2,349.4 L561.1,350.2 L564.0,351.0 L566.9,351.8 L569.8,352.6 L572.7,353.4 L575.7,354.2 L578.6,355.0 L581.5,355.8 L584.4,356.6 L587.3,357.3 L590.2,358.1 L593.1,358.8 L596.0,359.5 L598.9,360.2 L601.8,360.9 L604.7,361.6 L607.6,362.3 L610.5,363.0 L613.4,363.6 L616.3,364.2 L619.1,364.8 L622.0,365.4 L624.9,366.0 L627.8,366.6 L630.7,367.2 L633.6,367.7 L636.4,368.3 L639.3,368.8 L642.2,369.3 L645.1,369.9 L648.0,370.4 L650.9,370.9 L653.8,371.4 L656.8,371.9 L659.7,372.5 L662.6,373.0 L665.6,373.5 L668.6,374.1 L671.5,374.6 L674.5,375.2 L677.5,375.8 L680.6,376.3 L683.6,377.0 L686.6,377.6 L689.6,378.3 L692.5,379.1 L695.5,379.9 L698.4,380.9 L701.2,381.9 L703.9,383.1 L706.6,384.3 L709.2,385.8 L711.7,387.3 L714.0,389.0 L716.3,390.9 L718.4,393.0 L720.4,395.2 L722.2,397.5 L723.8,400.0 L725.2,402.6 L726.4,405.3 L727.4,408.2 L728.4,411.0 L729.2,414.0 L729.9,417.0 L730.5,420.0 L731.1,423.0 L731.6,426.0 L732.2,429.0 L732.7,432.0 L733.2,435.0 L733.7,438.0 L734.2,441.0 L734.7,443.9 L735.1,446.9 L735.6,449.9 L736.0,452.8 L736.5,455.8 L736.9,458.7 L737.3,461.7 L737.7,464.6 L738.1,467.6 L738.5,470.5 L738.9,473.5 L739.3,476.4 L739.6,479.4 L740.0,482.3 L740.4,485.3 L740.8,488.3 L741.2,491.2 L741.6,494.2 L742.0,497.2 L742.4,500.1 L742.8,503.1 L743.3,506.0 L743.8,509.0 L744.2,511.9 L744.7,514.9 L745.2,517.8 L745.7,520.8 L746.3,523.7 L746.8,526.7 L747.4,529.6 L747.9,532.5 L748.5,535.5 L749.1,538.4 L749.7,541.3 L750.3,544.2 L751.0,547.2 L751.6,550.1 L752.3,553.0 L752.9,555.9 L753.6,558.8 L754.3,561.7 L755.0,564.6 L755.7,567.5 L756.4,570.4 L757.2,573.4 L757.9,576.3 L758.7,579.1 L759.4,582.0 L760.2,584.9 L761.0,587.8 L761.8,590.7 L762.6,593.6 L763.5,596.5 L764.3,599.4 L765.1,602.3 L766.0,605.1 L766.9,608.0 L767.7,610.9 L768.6,613.7 L769.5,616.6 L770.5,619.5 L771.4,622.3 L772.3,625.2 L773.3,628.0 L774.3,630.8 L775.3,633.7 L776.3,636.5 L777.4,639.3 L778.4,642.1 L779.5,644.9 L780.6,647.7 L781.7,650.4 L782.9,653.2 L784.0,655.9 L785.2,658.7 L786.4,661.4 L787.7,664.1 L788.9,666.8 L790.2,669.5 L791.5,672.2 L792.9,674.8 L794.3,677.5 L795.7,680.1 L797.1,682.7 L798.5,685.3 L800.0,687.9 L801.5,690.4 L803.1,693.0 L804.7,695.5 L806.3,698.0 L807.9,700.5 L809.6,702.9 L811.3,705.4 L813.1,707.8 L814.8,710.2 L816.7,712.6 L818.5,714.9 L820.4,717.3 L822.2,719.6 L824.1,721.9 L826.1,724.2 L828.0,726.5 L829.9,728.8 L831.9,731.1 L833.8,733.4 L835.8,735.7 L837.7,738.0 L839.7,740.3 L841.6,742.6 L843.5,744.9 L845.4,747.2 L847.3,749.5 L849.2,751.8 L851.1,754.1 L853.0,756.4 L855.0,758.6 L856.9,760.9 L858.9,763.1 L861.0,765.2 L863.1,767.3 L865.2,769.4 L867.4,771.4 L869.6,773.4 L871.9,775.3 L874.2,777.2 L876.5,779.1 L878.9,781.0 L881.3,782.8 L883.6,784.6 L886.0,786.5 L888.5,788.3 L890.9,790.1 L893.3,791.9 L895.7,793.7 L898.1,795.5 L900.5,797.3 L902.9,799.1 L905.2,801.0 L907.6,802.8 L909.9,804.7 L912.3,806.6 L914.6,808.4 L916.9,810.3 L919.3,812.2 L921.6,814.0 L923.9,815.9 L926.3,817.7 L928.6,819.6 L931.0,821.4 L933.3,823.2 L935.7,825.0 L938.1,826.8 L940.5,828.5 L942.9,830.3 L945.3,832.0 L947.8,833.7 L950.2,835.4 L952.7,837.0 L955.2,838.7 L957.7,840.3 L960.2,841.9 L962.7,843.5 L965.3,845.0 L967.8,846.6 L970.4,848.1 L973.0,849.7 L975.6,851.2 L978.2,852.7 L980.8,854.2 L983.4,855.7 L986.0,857.1 L988.6,858.6 L991.2,860.1 L993.9,861.5 L996.5,862.9 L999.2,864.4 L1001.8,865.8 L1004.5,867.2 L1007.1,868.7 L1009.8,870.1 L1012.4,871.5 L1015.1,872.9 L1017.7,874.3 L1020.4,875.7 L1023.1,877.1 L1025.7,878.5 L1028.4,879.9 L1031.0,881.3 L1033.7,882.8 L1036.3,884.2 L1039.0,885.6 L1041.6,887.0 L1044.2,888.5 L1046.9,889.9 L1049.5,891.3 L1052.1,892.8 L1054.7,894.2 L1057.3,895.7 L1059.9,897.1 L1062.6,898.6 L1065.2,900.1 L1067.8,901.5 L1070.4,903.0 L1073.0,904.5 L1075.6,905.9 L1078.2,907.4 L1080.8,908.9 L1083.4,910.4 L1086.0,911.8 L1088.6,913.3 L1091.2,914.8 L1093.8,916.3 L1096.4,917.8 L1099.0,919.3 L1101.6,920.8 L1104.2,922.2 L1106.8,923.7 L1109.4,925.2 L1112.0,926.7 L1114.5,928.2 L1117.1,929.7 L1119.7,931.2 L1122.3,932.7 L1124.9,934.2 L1127.5,935.7 L1130.1,937.2 L1132.7,938.7 L1135.3,940.1 L1138.0,941.6 L1140.6,943.1 L1143.2,944.6 L1145.8,946.1 L1148.4,947.6 L1151.0,949.1 L1153.6,950.5 L1156.2,952.0 L1158.8,953.5 L1161.4,955.0 L1164.0,956.4 L1166.7,957.9 L1169.3,959.4 L1171.9,960.8 L1174.5,962.3 L1177.2,963.7 L1179.8,965.2 L1182.4,966.6 L1185.0,968.1 L1187.7,969.5 L1190.3,970.9 L1192.9,972.4 L1195.6,973.8 L1198.2,975.2 L1200.9,976.6 L1203.5,978.0 L1206.2,979.5 L1208.8,980.9 L1211.5,982.2 L1214.1,983.6 L1216.8,985.0 L1219.4,986.4 L1222.1,987.8 L1224.8,989.1 L1227.5,990.5 L1230.1,991.8 L1232.8,993.2 L1235.5,994.5 L1238.2,995.9 L1240.9,997.2 L1243.5,998.5 L1246.2,999.8 L1248.9,1001.1 L1251.6,1002.4 L1254.3,1003.7 L1257.1,1005.0 L1259.8,1006.3 L1262.5,1007.5 L1265.2,1008.8 L1267.9,1010.0 L1270.7,1011.3 L1273.4,1012.5 L1276.1,1013.7 L1278.9,1015.0 L1281.6,1016.2 L1284.3,1017.4 L1287.1,1018.6 L1289.8,1019.8 L1292.6,1020.9 L1295.3,1022.1 L1298.1,1023.3 L1300.9,1024.4 L1303.6,1025.6 L1306.4,1026.7 L1309.2,1027.9 L1311.9,1029.0 L1314.7,1030.1 L1317.5,1031.2 L1320.3,1032.3 L1323.1,1033.4 L1325.9,1034.5 L1328.6,1035.6 L1331.4,1036.7 L1334.2,1037.7 L1337.0,1038.8 L1339.8,1039.8 L1342.7,1040.9 L1345.5,1041.9 L1348.3,1042.9 L1351.1,1043.9 L1353.9,1044.9 L1356.7,1045.9 L1359.6,1046.9 L1362.4,1047.9 L1365.2,1048.9 L1368.0,1049.9 L1370.9,1050.8 L1373.7,1051.8 L1376.6,1052.7 L1379.4,1053.6 L1382.3,1054.6 L1385.1,1055.5 L1388.0,1056.4 L1390.8,1057.3 L1393.7,1058.2 L1396.5,1059.1 L1399.4,1059.9 L1402.2,1060.8 L1405.1,1061.7 L1408.0,1062.5 L1410.8,1063.4 L1413.7,1064.2 L1416.6,1065.0 L1419.5,1065.8 L1422.4,1066.7 L1425.2,1067.5 L1428.1,1068.2 L1431.0,1069.0 L1433.9,1069.8 L1436.8,1070.6 L1439.7,1071.3 L1442.6,1072.1 L1445.5,1072.9 L1448.4,1073.6 L1451.3,1074.3 L1454.2,1075.1 L1457.1,1075.8 L1460.0,1076.5 L1462.9,1077.2 L1465.8,1077.9 L1468.7,1078.6 L1471.7,1079.3 L1474.6,1080.0 L1477.5,1080.6 L1480.4,1081.3 L1483.3,1082.0 L1486.3,1082.6 L1489.2,1083.3 L1492.1,1083.9 L1495.0,1084.5 L1498.0,1085.2 L1500.9,1085.8 L1503.8,1086.4 L1506.8,1087.0 L1509.7,1087.6 L1512.6,1088.2 L1515.6,1088.8 L1518.5,1089.4 L1521.5,1090.0 L1524.4,1090.6 L1527.3,1091.2 L1530.3,1091.8 L1533.2,1092.3 L1536.2,1092.9 L1539.1,1093.4 L1542.1,1094.0 L1545.0,1094.5 L1548.0,1095.1 L1550.9,1095.6 L1553.9,1096.2 L1556.9,1096.7 L1559.8,1097.2 L1562.8,1097.7 L1565.7,1098.3 L1568.7,1098.8 L1571.6,1099.3 L1574.6,1099.8 L1577.6,1100.3 L1580.5,1100.8 L1583.5,1101.3 L1586.4,1101.8 L1589.4,1102.3 L1592.4,1102.8 L1595.3,1103.2 L1598.3,1103.7 L1601.3,1104.2 L1604.2,1104.7 L1607.2,1105.1 L1610.2,1105.6 L1613.1,1106.1 L1616.1,1106.5 L1619.1,1107.0 L1622.0,1107.5 L1625.0,1107.9 L1628.0,1108.4 L1630.9,1108.8 L1633.9,1109.3 L1636.9,1109.7 L1639.8,1110.2 L1642.8,1110.6 L1645.8,1111.0 L1648.7,1111.5 L1651.7,1111.9 L1654.7,1112.3 L1657.6,1112.8 L1660.6,1113.2 L1663.6,1113.6 L1666.5,1114.1 L1669.5,1114.5 L1672.5,1114.9 L1675.5,1115.4 L1678.4,1115.8 L1681.4,1116.2 L1684.4,1116.6 L1687.3,1117.1 L1690.3,1117.5 L1693.2,1117.9 L1696.2,1118.3 L1699.2,1118.7 L1702.1,1119.2 L1705.1,1119.6 L1708.1,1120.0 L1711.0,1120.4 L1714.0,1120.8 L1716.9,1121.3 L1719.9,1121.7 L1722.9,1122.1 L1725.8,1122.5 L1728.8,1123.0 L1731.7,1123.4 L1734.7,1123.8 L1737.6,1124.2 L1740.6,1124.7 L1743.5,1125.1 L1746.5,1125.5" stroke="#02a660"/>
<path d="M341.5,290.0 L344.6,290.0 L347.6,290.1 L350.6,290.2 L353.7,290.3 L356.7,290.5 L359.7,290.8 L362.7,291.1 L365.7,291.4 L368.6,291.8 L371.6,292.2 L374.6,292.6 L377.5,293.1 L380.5,293.6 L383.4,294.1 L386.3,294.7 L389.3,295.3 L392.2,295.9 L395.1,296.6 L398.0,297.3 L400.9,298.0 L403.8,298.8 L406.7,299.5 L409.6,300.3 L412.4,301.1 L415.3,302.0 L418.2,302.8 L421.0,303.7 L423.9,304.6 L426.7,305.5 L429.6,306.4 L432.4,307.3 L435.3,308.2 L438.1,309.2 L441.0,310.1 L443.8,311.1 L446.6,312.1 L449.5,313.1 L452.3,314.0 L455.1,315.0 L457.9,316.0 L460.7,317.0 L463.6,318.0 L466.4,319.0 L469.2,320.0 L472.0,321.0 L474.8,321.9 L477.7,322.9 L480.5,323.9 L483.3,324.8 L486.1,325.8 L488.9,326.8 L491.8,327.7 L494.6,328.6 L497.4,329.6 L500.2,330.5 L503.1,331.4 L505.9,332.3 L508.8,333.2 L511.6,334.1 L514.4,335.0 L517.3,335.9 L520.2,336.8 L523.0,337.6 L525.9,338.5 L528.8,339.3 L531.6,340.1 L534.5,341.0 L537.4,341.8 L540.3,342.6 L543.2,343.4 L546.1,344.1 L549.0,344.9 L552.0,345.6 L554.9,346.4 L557.8,347.1 L560.8,347.8 L563.7,348.5 L566.7,349.2 L569.7,349.9 L572.6,350.6 L575.6,351.2 L578.5,351.9 L581.5,352.5 L584.5,353.1 L587.4,353.8 L590.4,354.4 L593.3,354.9 L596.3,355.5 L599.2,356.1 L602.2,356.6 L605.1,357.2 L608.1,357.7 L611.0,358.2 L613.9,358.7 L616.8,359.2 L619.7,359.7 L622.6,360.2 L625.5,360.6 L628.4,361.1 L631.2,361.5 L634.1,361.9 L637.0,362.3 L639.8,362.8 L642.7,363.2 L645.6,363.6 L648.5,363.9 L651.5,364.3 L654.4,364.7 L657.4,365.1 L660.3,365.5 L663.4,365.9 L666.4,366.3 L669.5,366.6 L672.6,367.0 L675.7,367.4 L678.9,367.8 L682.1,368.2 L685.4,368.7 L688.5,369.2 L691.7,369.8 L694.7,370.5 L697.7,371.3 L700.5,372.3 L703.1,373.5 L705.6,374.9 L707.9,376.5 L709.9,378.3 L711.6,380.4 L713.1,382.8 L714.4,385.3 L715.4,388.1 L716.3,390.9 L717.0,393.9 L717.5,397.0 L718.0,400.0 L718.4,403.1 L718.8,406.2 L719.3,409.3 L719.7,412.4 L720.2,415.4 L720.7,418.4 L721.2,421.4 L721.7,424.4 L722.2,427.4 L722.8,430.3 L723.3,433.2 L723.9,436.2 L724.5,439.1 L725.1,442.0 L725.8,444.9 L726.4,447.8 L727.1,450.6 L727.8,453.5 L728.5,456.4 L729.2,459.2 L729.9,462.1 L730.6,464.9 L731.4,467.8 L732.1,470.6 L732.9,473.5 L733.7,476.3 L734.5,479.2 L735.3,482.0 L736.1,484.9 L736.9,487.8 L737.8,490.6 L738.6,493.5 L739.5,496.3 L740.3,499.2 L741.2,502.1 L742.1,504.9 L742.9,507.8 L743.8,510.7 L744.7,513.5 L745.6,516.4 L746.5,519.3 L747.4,522.2 L748.3,525.0 L749.3,527.9 L750.2,530.8 L751.1,533.7 L752.0,536.5 L752.9,539.4 L753.8,542.3 L754.8,545.1 L755.7,548.0 L756.6,550.9 L757.5,553.8 L758.4,556.6 L759.3,559.5 L760.2,562.4 L761.1,565.2 L762.1,568.1 L763.0,570.9 L763.9,573.8 L764.8,576.7 L765.8,579.5 L766.7,582.4 L767.7,585.2 L768.6,588.0 L769.6,590.9 L770.5,593.7 L771.5,596.6 L772.5,599.4 L773.5,602.2 L774.5,605.0 L775.5,607.8 L776.5,610.6 L777.6,613.4 L778.6,616.2 L779.7,619.0 L780.7,621.8 L781.8,624.6 L782.9,627.4 L784.0,630.1 L785.2,632.9 L786.3,635.6 L787.5,638.4 L788.7,641.1 L789.9,643.9 L791.1,646.6 L792.3,649.3 L793.6,652.0 L794.9,654.7 L796.2,657.4 L797.5,660.1 L798.8,662.7 L800.2,665.4 L801.6,668.0 L803.0,670.7 L804.4,673.3 L805.9,675.9 L807.3,678.6 L808.8,681.2 L810.3,683.7 L811.8,686.3 L813.4,688.9 L814.9,691.5 L816.5,694.0 L818.1,696.5 L819.8,699.1 L821.4,701.6 L823.1,704.1 L824.7,706.6 L826.4,709.0 L828.1,711.5 L829.9,713.9 L831.6,716.4 L833.4,718.8 L835.2,721.2 L837.0,723.6 L838.8,726.0 L840.7,728.4 L842.5,730.7 L844.4,733.0 L846.3,735.4 L848.2,737.7 L850.1,740.0 L852.1,742.3 L854.0,744.5 L856.0,746.8 L858.0,749.0 L860.0,751.2 L862.0,753.4 L864.1,755.6 L866.1,757.8 L868.2,760.0 L870.3,762.1 L872.4,764.2 L874.5,766.3 L876.6,768.4 L878.8,770.5 L881.0,772.6 L883.1,774.6 L885.3,776.7 L887.5,778.7 L889.8,780.7 L892.0,782.7 L894.2,784.6 L896.5,786.6 L898.8,788.5 L901.1,790.4 L903.4,792.4 L905.7,794.2 L908.0,796.1 L910.4,798.0 L912.7,799.8 L915.1,801.6 L917.5,803.4 L919.9,805.2 L922.3,807.0 L924.7,808.8 L927.1,810.5 L929.6,812.2 L932.0,813.9 L934.5,815.6 L936.9,817.3 L939.4,819.0 L941.9,820.6 L944.4,822.3 L947.0,823.9 L949.5,825.5 L952.0,827.1 L954.6,828.6 L957.1,830.2 L959.7,831.7 L962.3,833.3 L964.8,834.8 L967.4,836.3 L970.0,837.8 L972.6,839.3 L975.2,840.8 L977.8,842.3 L980.5,843.7 L983.1,845.2 L985.7,846.6 L988.3,848.1 L991.0,849.5 L993.6,851.0 L996.2,852.4 L998.9,853.9 L1001.5,855.3 L1004.2,856.7 L1006.8,858.1 L1009.4,859.6 L1012.1,861.0 L1014.7,862.4 L1017.4,863.8 L1020.0,865.3 L1022.6,866.7 L1025.3,868.1 L1027.9,869.6 L1030.6,871.0 L1033.2,872.4 L1035.8,873.9 L1038.4,875.3 L1041.0,876.8 L1043.7,878.3 L1046.3,879.7 L1048.9,881.2 L1051.5,882.7 L1054.1,884.1 L1056.7,885.6 L1059.3,887.1 L1061.9,888.6 L1064.5,890.1 L1067.1,891.6 L1069.7,893.0 L1072.3,894.5 L1074.9,896.0 L1077.5,897.5 L1080.1,899.0 L1082.7,900.4 L1085.3,901.9 L1087.9,903.4 L1090.5,904.8 L1093.1,906.3 L1095.7,907.8 L1098.4,909.2 L1101.0,910.7 L1103.6,912.1 L1106.2,913.6 L1108.8,915.0 L1111.5,916.5 L1114.1,917.9 L1116.7,919.3 L1119.4,920.8 L1122.0,922.2 L1124.6,923.6 L1127.3,925.0 L1129.9,926.4 L1132.6,927.9 L1135.2,929.3 L1137.9,930.7 L1140.5,932.1 L1143.2,933.5 L1145.8,934.8 L1148.5,936.2 L1151.2,937.6 L1153.8,939.0 L1156.5,940.4 L1159.2,941.7 L1161.8,943.1 L1164.5,944.5 L1167.2,945.8 L1169.8,947.2 L1172.5,948.5 L1175.2,949.9 L1177.9,951.2 L1180.6,952.5 L1183.3,953.9 L1186.0,955.2 L1188.6,956.5 L1191.3,957.8 L1194.0,959.2 L1196.7,960.5 L1199.4,961.8 L1202.1,963.1 L1204.9,964.4 L1207.6,965.6 L1210.3,966.9 L1213.0,968.2 L1215.7,969.5 L1218.4,970.7 L1221.1,972.0 L1223.9,973.3 L1226.6,974.5 L1229.3,975.8 L1232.0,977.0 L1234.8,978.2 L1237.5,979.5 L1240.2,980.7 L1243.0,981.9 L1245.7,983.1 L1248.5,984.4 L1251.2,985.6 L1254.0,986.8 L1256.7,987.9 L1259.5,989.1 L1262.2,990.3 L1265.0,991.5 L1267.7,992.7 L1270.5,993.8 L1273.3,995.0 L1276.0,996.1 L1278.8,997.3 L1281.6,998.4 L1284.3,999.6 L1287.1,1000.7 L1289.9,1001.8 L1292.7,1002.9 L1295.4,1004.1 L1298.2,1005.2 L1301.0,1006.3 L1303.8,1007.4 L1306.6,1008.4 L1309.4,1009.5 L1312.2,1010.6 L1315.0,1011.7 L1317.8,1012.7 L1320.6,1013.8 L1323.4,1014.8 L1326.2,1015.9 L1329.0,1016.9 L1331.8,1017.9 L1334.6,1019.0 L1337.4,1020.0 L1340.3,1021.0 L1343.1,1022.0 L1345.9,1023.0 L1348.7,1024.0 L1351.6,1025.0 L1354.4,1025.9 L1357.2,1026.9 L1360.1,1027.9 L1362.9,1028.8 L1365.7,1029.8 L1368.6,1030.7 L1371.4,1031.6 L1374.3,1032.6 L1377.1,1033.5 L1380.0,1034.4 L1382.8,1035.3 L1385.7,1036.2 L1388.5,1037.1 L1391.4,1038.0 L1394.2,1038.8 L1397.1,1039.7 L1400.0,1040.6 L1402.8,1041.4 L1405.7,1042.2 L1408.6,1043.1 L1411.5,1043.9 L1414.3,1044.7 L1417.2,1045.6 L1420.1,1046.4 L1423.0,1047.2 L1425.9,1047.9 L1428.8,1048.7 L1431.7,1049.5 L1434.5,1050.3 L1437.4,1051.1 L1440.3,1051.8 L1443.2,1052.6 L1446.1,1053.3 L1449.0,1054.0 L1451.9,1054.8 L1454.9,1055.5 L1457.8,1056.2 L1460.7,1056.9 L1463.6,1057.6 L1466.5,1058.3 L1469.4,1059.0 L1472.3,1059.7 L1475.2,1060.4 L1478.2,1061.1 L1481.1,1061.8 L1484.0,1062.4 L1486.9,1063.1 L1489.9,1063.8 L1492.8,1064.4 L1495.7,1065.1 L1498.6,1065.7 L1501.6,1066.3 L1504.5,1067.0 L1507.4,1067.6 L1510.4,1068.2 L1513.3,1068.8 L1516.2,1069.5 L1519.2,1070.1 L1522.1,1070.7 L1525.1,1071.3 L1528.0,1071.9 L1531.0,1072.5 L1533.9,1073.1 L1536.8,1073.6 L1539.8,1074.2 L1542.7,1074.8 L1545.7,1075.4 L1548.6,1075.9 L1551.6,1076.5 L1554.5,1077.1 L1557.5,1077.6 L1560.4,1078.2 L1563.4,1078.7 L1566.3,1079.3 L1569.3,1079.8 L1572.2,1080.4 L1575.2,1080.9 L1578.2,1081.5 L1581.1,1082.0 L1584.1,1082.5 L1587.0,1083.1 L1590.0,1083.6 L1592.9,1084.1 L1595.9,1084.7 L1598.8,1085.2 L1601.8,1085.7 L1604.8,1086.2 L1607.7,1086.7 L1610.7,1087.3 L1613.6,1087.8 L1616.6,1088.3 L1619.6,1088.8 L1622.5,1089.3 L1625.5,1089.8 L1628.4,1090.3 L1631.4,1090.8 L1634.4,1091.3 L1637.3,1091.8 L1640.3,1092.3 L1643.2,1092.8 L1646.2,1093.3 L1649.2,1093.8 L1652.1,1094.3 L1655.1,1094.8 L1658.0,1095.3 L1661.0,1095.8 L1663.9,1096.3 L1666.9,1096.8 L1669.9,1097.3 L1672.8,1097.8 L1675.8,1098.3 L1678.7,1098.8 L1681.7,1099.3 L1684.6,1099.8 L1687.6,1100.3 L1690.5,1100.8 L1693.5,1101.3 L1696.5,1101.8 L1699.4,1102.3 L1702.4,1102.8 L1705.3,1103.3 L1708.2,1103.8 L1711.2,1104.3 L1714.1,1104.8 L1717.1,1105.3 L1720.0,1105.9 L1723.0,1106.4 L1725.9,1106.9 L1728.9,1107.4 L1731.8,1107.9 L1734.7,1108.4 L1737.7,1108.9 L1740.6,1109.5 L1743.6,1110.0 L1746.5,1110.5" stroke="#9d76ae"/>
<path d="M341.5,290.5 L344.4,291.2 L347.4,291.8 L350.3,292.6 L353.2,293.3 L356.1,294.0 L359.0,294.8 L361.8,295.6 L364.7,296.4 L367.6,297.3 L370.4,298.1 L373.3,299.0 L376.2,299.9 L379.0,300.8 L381.8,301.7 L384.7,302.7 L387.5,303.6 L390.3,304.6 L393.1,305.6 L395.9,306.6 L398.7,307.6 L401.6,308.7 L404.3,309.7 L407.1,310.7 L409.9,311.8 L412.7,312.9 L415.5,314.0 L418.3,315.1 L421.1,316.2 L423.8,317.3 L426.6,318.4 L429.4,319.5 L432.2,320.6 L434.9,321.7 L437.7,322.9 L440.5,324.0 L443.2,325.1 L446.0,326.3 L448.8,327.4 L451.5,328.6 L454.3,329.7 L457.1,330.9 L459.8,332.0 L462.6,333.1 L465.4,334.3 L468.1,335.4 L470.9,336.5 L473.7,337.7 L476.4,338.8 L479.2,339.9 L482.0,341.0 L484.8,342.1 L487.5,343.2 L490.3,344.3 L493.1,345.4 L495.9,346.4 L498.7,347.5 L501.5,348.5 L504.3,349.6 L507.1,350.6 L509.9,351.6 L512.7,352.6 L515.5,353.6 L518.4,354.6 L521.2,355.5 L524.0,356.5 L526.9,357.4 L529.7,358.3 L532.6,359.2 L535.4,360.1 L538.3,360.9 L541.2,361.7 L544.1,362.5 L546.9,363.3 L549.8,364.1 L552.7,364.8 L555.7,365.6 L558.6,366.3 L561.5,367.0 L564.4,367.6 L567.4,368.3 L570.3,368.9 L573.2,369.5 L576.2,370.1 L579.1,370.7 L582.1,371.3 L585.0,371.8 L588.0,372.3 L591.0,372.9 L593.9,373.4 L596.9,373.8 L599.9,374.3 L602.8,374.8 L605.8,375.2 L608.8,375.7 L611.8,376.1 L614.7,376.5 L617.7,376.9 L620.7,377.3 L623.6,377.7 L626.6,378.1 L629.6,378.5 L632.5,378.8 L635.5,379.2 L638.4,379.5 L641.4,379.9 L644.4,380.2 L647.3,380.6 L650.3,380.9 L653.3,381.2 L656.3,381.6 L659.3,381.9 L662.3,382.3 L665.3,382.7 L668.4,383.0 L671.4,383.4 L674.5,383.8 L677.5,384.2 L680.6,384.7 L683.6,385.3 L686.6,385.9 L689.5,386.7 L692.4,387.7 L695.1,388.8 L697.7,390.2 L700.1,391.7 L702.4,393.4 L704.6,395.3 L706.5,397.4 L708.3,399.7 L710.0,402.1 L711.6,404.6 L713.0,407.1 L714.3,409.7 L715.5,412.4 L716.7,415.1 L717.7,417.9 L718.7,420.7 L719.6,423.5 L720.5,426.4 L721.3,429.3 L722.0,432.2 L722.7,435.2 L723.4,438.2 L724.0,441.2 L724.6,444.2 L725.2,447.2 L725.7,450.3 L726.3,453.3 L726.9,456.3 L727.4,459.4 L728.0,462.4 L728.6,465.4 L729.3,468.4 L730.0,471.4 L730.7,474.4 L731.4,477.4 L732.2,480.3 L733.1,483.2 L734.0,486.1 L734.9,488.9 L735.9,491.8 L736.9,494.6 L737.9,497.4 L738.9,500.2 L740.0,503.0 L741.1,505.8 L742.2,508.6 L743.3,511.3 L744.5,514.1 L745.6,516.8 L746.8,519.6 L748.0,522.3 L749.1,525.1 L750.3,527.8 L751.4,530.5 L752.6,533.3 L753.7,536.0 L754.9,538.8 L756.0,541.5 L757.1,544.3 L758.2,547.0 L759.2,549.8 L760.3,552.6 L761.3,555.4 L762.3,558.2 L763.3,561.0 L764.3,563.8 L765.2,566.6 L766.2,569.4 L767.1,572.3 L768.0,575.1 L768.9,578.0 L769.8,580.8 L770.7,583.7 L771.6,586.5 L772.5,589.4 L773.3,592.2 L774.2,595.1 L775.0,598.0 L775.9,600.9 L776.7,603.7 L777.6,606.6 L778.4,609.5 L779.3,612.4 L780.1,615.3 L780.9,618.2 L781.8,621.1 L782.6,624.0 L783.5,626.8 L784.3,629.7 L785.2,632.6 L786.1,635.5 L787.0,638.4 L787.8,641.3 L788.7,644.2 L789.6,647.1 L790.6,650.0 L791.5,652.8 L792.4,655.7 L793.4,658.6 L794.3,661.5 L795.3,664.3 L796.3,667.2 L797.2,670.0 L798.3,672.9 L799.3,675.7 L800.3,678.5 L801.4,681.4 L802.4,684.2 L803.5,687.0 L804.6,689.8 L805.8,692.6 L806.9,695.3 L808.1,698.1 L809.2,700.9 L810.4,703.6 L811.7,706.3 L812.9,709.0 L814.2,711.7 L815.5,714.4 L816.8,717.1 L818.1,719.8 L819.5,722.4 L820.8,725.1 L822.3,727.7 L823.7,730.3 L825.2,732.8 L826.7,735.4 L828.2,738.0 L829.7,740.5 L831.3,743.0 L832.9,745.5 L834.6,748.0 L836.2,750.4 L837.9,752.8 L839.6,755.3 L841.4,757.7 L843.2,760.0 L845.0,762.4 L846.8,764.7 L848.7,767.1 L850.6,769.4 L852.5,771.7 L854.4,774.0 L856.3,776.3 L858.3,778.5 L860.2,780.8 L862.2,783.0 L864.2,785.2 L866.2,787.5 L868.3,789.7 L870.3,791.9 L872.4,794.1 L874.4,796.3 L876.5,798.4 L878.6,800.6 L880.7,802.8 L882.8,805.0 L884.9,807.1 L887.0,809.3 L889.1,811.4 L891.2,813.6 L893.3,815.7 L895.4,817.9 L897.5,820.1 L899.6,822.2 L901.7,824.4 L903.8,826.5 L905.9,828.7 L908.0,830.8 L910.1,832.9 L912.2,835.1 L914.3,837.2 L916.4,839.3 L918.6,841.4 L920.7,843.4 L922.9,845.5 L925.1,847.5 L927.3,849.5 L929.5,851.5 L931.7,853.5 L934.0,855.4 L936.3,857.3 L938.6,859.2 L940.9,861.0 L943.3,862.8 L945.7,864.6 L948.1,866.3 L950.6,868.0 L953.1,869.7 L955.6,871.3 L958.1,872.9 L960.6,874.5 L963.2,876.1 L965.7,877.7 L968.3,879.2 L970.9,880.8 L973.5,882.3 L976.1,883.8 L978.7,885.3 L981.3,886.8 L983.9,888.3 L986.6,889.8 L989.2,891.3 L991.8,892.8 L994.4,894.3 L997.0,895.8 L999.6,897.3 L1002.2,898.8 L1004.8,900.3 L1007.4,901.8 L1010.0,903.3 L1012.6,904.8 L1015.2,906.3 L1017.8,907.8 L1020.4,909.3 L1023.0,910.8 L1025.6,912.3 L1028.2,913.8 L1030.8,915.3 L1033.4,916.8 L1036.0,918.3 L1038.6,919.8 L1041.2,921.3 L1043.8,922.7 L1046.3,924.2 L1048.9,925.7 L1051.5,927.2 L1054.1,928.7 L1056.7,930.2 L1059.3,931.7 L1061.9,933.2 L1064.5,934.7 L1067.1,936.1 L1069.7,937.6 L1072.3,939.1 L1074.9,940.6 L1077.5,942.1 L1080.1,943.5 L1082.7,945.0 L1085.3,946.5 L1087.9,947.9 L1090.5,949.4 L1093.1,950.9 L1095.7,952.3 L1098.3,953.8 L1100.9,955.2 L1103.5,956.7 L1106.1,958.1 L1108.8,959.6 L1111.4,961.0 L1114.0,962.5 L1116.6,963.9 L1119.3,965.4 L1121.9,966.8 L1124.5,968.2 L1127.2,969.6 L1129.8,971.1 L1132.4,972.5 L1135.1,973.9 L1137.7,975.3 L1140.4,976.7 L1143.0,978.1 L1145.7,979.5 L1148.3,980.9 L1151.0,982.3 L1153.6,983.7 L1156.3,985.1 L1158.9,986.5 L1161.6,987.9 L1164.3,989.3 L1166.9,990.7 L1169.6,992.0 L1172.3,993.4 L1174.9,994.8 L1177.6,996.1 L1180.3,997.5 L1183.0,998.8 L1185.6,1000.2 L1188.3,1001.5 L1191.0,1002.9 L1193.7,1004.2 L1196.4,1005.5 L1199.1,1006.8 L1201.8,1008.2 L1204.5,1009.5 L1207.2,1010.8 L1209.9,1012.1 L1212.6,1013.4 L1215.3,1014.7 L1218.0,1016.0 L1220.7,1017.3 L1223.4,1018.6 L1226.1,1019.8 L1228.9,1021.1 L1231.6,1022.4 L1234.3,1023.6 L1237.0,1024.9 L1239.7,1026.1 L1242.5,1027.4 L1245.2,1028.6 L1247.9,1029.9 L1250.7,1031.1 L1253.4,1032.3 L1256.2,1033.5 L1258.9,1034.8 L1261.6,1036.0 L1264.4,1037.2 L1267.1,1038.4 L1269.9,1039.5 L1272.6,1040.7 L1275.4,1041.9 L1278.2,1043.1 L1280.9,1044.2 L1283.7,1045.4 L1286.4,1046.6 L1289.2,1047.7 L1292.0,1048.8 L1294.8,1050.0 L1297.5,1051.1 L1300.3,1052.2 L1303.1,1053.4 L1305.9,1054.5 L1308.7,1055.6 L1311.4,1056.7 L1314.2,1057.7 L1317.0,1058.8 L1319.8,1059.9 L1322.6,1061.0 L1325.4,1062.0 L1328.2,1063.1 L1331.0,1064.1 L1333.8,1065.2 L1336.6,1066.2 L1339.5,1067.2 L1342.3,1068.3 L1345.1,1069.3 L1347.9,1070.3 L1350.7,1071.3 L1353.5,1072.3 L1356.4,1073.2 L1359.2,1074.2 L1362.0,1075.2 L1364.9,1076.2 L1367.7,1077.1 L1370.5,1078.0 L1373.4,1079.0 L1376.2,1079.9 L1379.1,1080.8 L1381.9,1081.7 L1384.8,1082.6 L1387.6,1083.5 L1390.5,1084.4 L1393.3,1085.3 L1396.2,1086.2 L1399.1,1087.1 L1401.9,1087.9 L1404.8,1088.8 L1407.7,1089.6 L1410.5,1090.4 L1413.4,1091.2 L1416.3,1092.1 L1419.2,1092.9 L1422.0,1093.7 L1424.9,1094.5 L1427.8,1095.2 L1430.7,1096.0 L1433.6,1096.8 L1436.5,1097.5 L1439.4,1098.3 L1442.3,1099.0 L1445.2,1099.8 L1448.1,1100.5 L1451.0,1101.2 L1453.9,1101.9 L1456.8,1102.6 L1459.7,1103.3 L1462.6,1104.0 L1465.5,1104.7 L1468.5,1105.4 L1471.4,1106.1 L1474.3,1106.7 L1477.2,1107.4 L1480.1,1108.0 L1483.1,1108.7 L1486.0,1109.3 L1488.9,1110.0 L1491.8,1110.6 L1494.8,1111.2 L1497.7,1111.8 L1500.6,1112.4 L1503.6,1113.0 L1506.5,1113.6 L1509.5,1114.2 L1512.4,1114.8 L1515.3,1115.4 L1518.3,1116.0 L1521.2,1116.6 L1524.2,1117.1 L1527.1,1117.7 L1530.1,1118.2 L1533.0,1118.8 L1536.0,1119.3 L1538.9,1119.9 L1541.9,1120.4 L1544.8,1120.9 L1547.8,1121.5 L1550.7,1122.0 L1553.7,1122.5 L1556.6,1123.0 L1559.6,1123.5 L1562.6,1124.0 L1565.5,1124.5 L1568.5,1125.0 L1571.5,1125.5 L1574.4,1126.0 L1577.4,1126.5 L1580.3,1127.0 L1583.3,1127.4 L1586.3,1127.9 L1589.2,1128.4 L1592.2,1128.8 L1595.2,1129.3 L1598.1,1129.8 L1601.1,1130.2 L1604.1,1130.7 L1607.0,1131.1 L1610.0,1131.6 L1613.0,1132.0 L1616.0,1132.4 L1618.9,1132.9 L1621.9,1133.3 L1624.9,1133.7 L1627.8,1134.2 L1630.8,1134.6 L1633.8,1135.0 L1636.8,1135.5 L1639.7,1135.9 L1642.7,1136.3 L1645.7,1136.7 L1648.6,1137.1 L1651.6,1137.5 L1654.6,1137.9 L1657.6,1138.4 L1660.5,1138.8 L1663.5,1139.2 L1666.5,1139.6 L1669.4,1140.0 L1672.4,1140.4 L1675.4,1140.8 L1678.3,1141.2 L1681.3,1141.6 L1684.3,1142.0 L1687.3,1142.4 L1690.2,1142.8 L1693.2,1143.2 L1696.2,1143.5 L1699.1,1143.9 L1702.1,1144.3 L1705.1,1144.7 L1708.0,1145.1 L1711.0,1145.5 L1714.0,1145.9 L1716.9,1146.3 L1719.9,1146.7 L1722.8,1147.1 L1725.8,1147.5 L1728.8,1147.9 L1731.7,1148.2 L1734.7,1148.6 L1737.6,1149.0 L1740.6,1149.4 L1743.5,1149.8 L1746.5,1150.2" stroke="#de8a21"/>
</g>
<line x1="331" y1="933.6" x2="477" y2="933.6" stroke="#57514b" stroke-width="8.4"/>
<text x="486.7" y="954.7" font-family="'Liberation Serif','Noto Serif CJK SC',serif" font-size="66.4" fill="#000" transform="translate(20.38,0) scale(0.9581,1)">NCC</text>
<line x1="331" y1="1009.4" x2="477" y2="1009.4" stroke="#fe4b43" stroke-width="8.4"/>
<text x="486.7" y="1030.8" font-family="'Liberation Serif','Noto Serif CJK SC',serif" font-size="66.4" fill="#000" transform="translate(23.51,0) scale(0.9517,1)">NCC/rGO</text>
<line x1="331" y1="1084.5" x2="477" y2="1084.5" stroke="#2567a6" stroke-width="8.4"/>
<text x="486.7" y="1106.9" font-family="'Liberation Serif','Noto Serif CJK SC',serif" font-size="66.4" fill="#000" transform="translate(31.89,0) scale(0.9345,1)">NCC/rGO/PEG-1</text>
<line x1="331" y1="1162.2" x2="477" y2="1162.2" stroke="#02a660" stroke-width="8.4"/>
<text x="486.7" y="1183.0" font-family="'Liberation Serif','Noto Serif CJK SC',serif" font-size="66.4" fill="#000" transform="translate(28.35,0) scale(0.9418,1)">NCC/rGO/PEG-2</text>
<line x1="331" y1="1238.3" x2="477" y2="1238.3" stroke="#9d76ae" stroke-width="8.4"/>
<text x="486.7" y="1259.1" font-family="'Liberation Serif','Noto Serif CJK SC',serif" font-size="66.4" fill="#000" transform="translate(31.40,0) scale(0.9355,1)">NCC/rGO/PEG-3</text>
<line x1="331" y1="1313.6" x2="477" y2="1313.6" stroke="#de8a21" stroke-width="8.4"/>
<text x="486.7" y="1335.2" font-family="'Liberation Serif','Noto Serif CJK SC',serif" font-size="66.4" fill="#000" transform="translate(29.82,0) scale(0.9387,1)">NCC/rGO/PEG-4</text>
<line x1="862.7" y1="411" x2="1085" y2="441.5" stroke="#000" stroke-width="7.6"/>
<polygon points="1083.5,425.8 1141,449 1076,458.2" fill="#000"/>
<g stroke="#000" fill="none">
<line x1="1178" y1="52" x2="1178" y2="829" stroke-width="2.8"/>
<line x1="1176.6" y1="827.6" x2="2009" y2="827.6" stroke-width="2.8"/>
<line x1="1178" y1="765.9" x2="1185" y2="765.9" stroke-width="2.6"/>
<line x1="1178" y1="641.9" x2="1190" y2="641.9" stroke-width="2.8"/>
<line x1="1178" y1="517.9" x2="1185" y2="517.9" stroke-width="2.6"/>
<line x1="1178" y1="393.9" x2="1190" y2="393.9" stroke-width="2.8"/>
<line x1="1178" y1="269.9" x2="1185" y2="269.9" stroke-width="2.6"/>
<line x1="1178" y1="145.9" x2="1190" y2="145.9" stroke-width="2.8"/>
<line x1="1202.5" y1="827.6" x2="1202.5" y2="821" stroke-width="2.6"/>
<line x1="1363.5" y1="827.6" x2="1363.5" y2="813.5" stroke-width="2.8"/>
<line x1="1524.5" y1="827.6" x2="1524.5" y2="821" stroke-width="2.6"/>
<line x1="1685.4" y1="827.6" x2="1685.4" y2="813.5" stroke-width="2.8"/>
<line x1="1846.3" y1="827.6" x2="1846.3" y2="821" stroke-width="2.6"/>
<line x1="2007.3" y1="827.6" x2="2007.3" y2="813.5" stroke-width="2.8"/>
</g>
<g font-family="'Liberation Serif','Noto Serif CJK SC',serif" font-weight="bold" font-size="47" fill="#000" text-anchor="end">
<text x="1162.5" y="657.2">88</text>
<text x="1162.5" y="409.2">92</text>
<text x="1162.5" y="161.2">96</text>
</g>
<g font-family="'Liberation Serif','Noto Serif CJK SC',serif" font-weight="bold" font-size="46.5" fill="#000" text-anchor="middle">
<text x="1365.0" y="877.7">150</text>
<text x="1686.9" y="877.7">200</text>
<text x="2008.8" y="877.7">250</text>
</g>
<text y="930.1" font-family="'Liberation Serif','Noto Serif CJK SC',serif" font-weight="bold" font-size="44.3" fill="#000"><tspan x="1434.8" letter-spacing="1.32">Temperature</tspan><tspan x="1696.0" y="929.2" font-family="'Noto Serif CJK SC',serif" font-weight="200" font-size="37.2">（</tspan><tspan x="1738.8" y="930.1">°</tspan><tspan x="1755.7">C</tspan><tspan x="1795.1" y="929.2" font-family="'Noto Serif CJK SC',serif" font-weight="200" font-size="37.2">）</tspan></text>
<defs><clipPath id="ic"><rect x="1179" y="40" width="900" height="786.5"/></clipPath></defs>
<g fill="none" stroke-width="8" stroke-linejoin="round" clip-path="url(#ic)">
<path d="M1172.0,153.0 L1174.8,154.1 L1177.5,155.3 L1180.3,156.4 L1183.1,157.5 L1185.9,158.6 L1188.6,159.7 L1191.4,160.8 L1194.2,162.0 L1197.0,163.1 L1199.7,164.2 L1202.5,165.3 L1205.3,166.4 L1208.1,167.5 L1210.9,168.6 L1213.7,169.7 L1216.4,170.7 L1219.2,171.8 L1222.0,172.9 L1224.8,174.0 L1227.6,175.1 L1230.4,176.1 L1233.2,177.2 L1236.0,178.3 L1238.8,179.4 L1241.6,180.4 L1244.4,181.5 L1247.2,182.5 L1250.0,183.6 L1252.8,184.7 L1255.6,185.7 L1258.4,186.8 L1261.2,187.8 L1264.0,188.9 L1266.8,189.9 L1269.6,190.9 L1272.4,192.0 L1275.3,193.0 L1278.1,194.0 L1280.9,195.1 L1283.7,196.1 L1286.5,197.1 L1289.3,198.1 L1292.1,199.1 L1295.0,200.2 L1297.8,201.2 L1300.6,202.2 L1303.4,203.2 L1306.3,204.2 L1309.1,205.2 L1311.9,206.2 L1314.7,207.2 L1317.6,208.2 L1320.4,209.1 L1323.2,210.1 L1326.0,211.1 L1328.9,212.1 L1331.7,213.1 L1334.5,214.0 L1337.4,215.0 L1340.2,216.0 L1343.0,217.0 L1345.9,217.9 L1348.7,218.9 L1351.6,219.8 L1354.4,220.8 L1357.2,221.7 L1360.1,222.7 L1362.9,223.6 L1365.8,224.6 L1368.6,225.5 L1371.5,226.5 L1374.3,227.4 L1377.2,228.3 L1380.0,229.2 L1382.9,230.2 L1385.7,231.1 L1388.6,232.0 L1391.4,232.9 L1394.3,233.8 L1397.1,234.8 L1400.0,235.7 L1402.8,236.6 L1405.7,237.5 L1408.5,238.4 L1411.4,239.3 L1414.2,240.2 L1417.1,241.0 L1420.0,241.9 L1422.8,242.8 L1425.7,243.7 L1428.5,244.6 L1431.4,245.5 L1434.3,246.3 L1437.1,247.2 L1440.0,248.1 L1442.9,248.9 L1445.7,249.8 L1448.6,250.6 L1451.5,251.5 L1454.3,252.3 L1457.2,253.2 L1460.1,254.0 L1463.0,254.9 L1465.8,255.7 L1468.7,256.5 L1471.6,257.4 L1474.4,258.2 L1477.3,259.0 L1480.2,259.9 L1483.1,260.7 L1485.9,261.5 L1488.8,262.3 L1491.7,263.1 L1494.6,264.0 L1497.4,264.8 L1500.3,265.6 L1503.2,266.4 L1506.1,267.2 L1509.0,268.0 L1511.8,268.8 L1514.7,269.7 L1517.6,270.5 L1520.5,271.3 L1523.3,272.1 L1526.2,272.9 L1529.1,273.7 L1532.0,274.6 L1534.8,275.4 L1537.7,276.2 L1540.6,277.0 L1543.5,277.9 L1546.3,278.7 L1549.2,279.6 L1552.1,280.4 L1554.9,281.2 L1557.8,282.1 L1560.7,283.0 L1563.6,283.8 L1566.4,284.7 L1569.3,285.5 L1572.1,286.4 L1575.0,287.3 L1577.9,288.2 L1580.7,289.1 L1583.6,290.0 L1586.4,290.9 L1589.3,291.8 L1592.2,292.7 L1595.0,293.7 L1597.9,294.6 L1600.7,295.5 L1603.6,296.5 L1606.4,297.5 L1609.2,298.4 L1612.1,299.4 L1614.9,300.4 L1617.8,301.4 L1620.6,302.4 L1623.4,303.4 L1626.3,304.4 L1629.1,305.5 L1631.9,306.5 L1634.7,307.6 L1637.5,308.7 L1640.3,309.8 L1643.1,310.9 L1645.9,312.0 L1648.7,313.2 L1651.4,314.4 L1654.2,315.6 L1656.9,316.8 L1659.7,318.0 L1662.4,319.3 L1665.1,320.6 L1667.7,321.9 L1670.4,323.2 L1673.0,324.6 L1675.7,326.0 L1678.3,327.4 L1680.9,328.9 L1683.4,330.4 L1686.0,331.9 L1688.5,333.5 L1691.0,335.1 L1693.5,336.7 L1695.9,338.4 L1698.3,340.1 L1700.7,341.8 L1703.1,343.6 L1705.4,345.5 L1707.7,347.3 L1710.0,349.2 L1712.2,351.2 L1714.5,353.1 L1716.7,355.2 L1718.9,357.2 L1721.0,359.3 L1723.2,361.3 L1725.3,363.5 L1727.4,365.6 L1729.5,367.8 L1731.5,370.0 L1733.6,372.2 L1735.6,374.4 L1737.6,376.6 L1739.6,378.9 L1741.6,381.1 L1743.6,383.4 L1745.6,385.7 L1747.5,388.0 L1749.4,390.3 L1751.4,392.6 L1753.3,394.9 L1755.2,397.2 L1757.1,399.6 L1759.0,401.9 L1760.9,404.2 L1762.7,406.6 L1764.6,408.9 L1766.4,411.3 L1768.3,413.6 L1770.1,416.0 L1771.9,418.3 L1773.7,420.7 L1775.5,423.1 L1777.3,425.5 L1779.1,427.8 L1780.8,430.2 L1782.6,432.6 L1784.3,435.1 L1786.0,437.5 L1787.8,439.9 L1789.5,442.3 L1791.1,444.8 L1792.8,447.3 L1794.5,449.7 L1796.1,452.2 L1797.8,454.7 L1799.4,457.2 L1801.0,459.7 L1802.6,462.2 L1804.2,464.7 L1805.8,467.2 L1807.3,469.8 L1808.9,472.3 L1810.4,474.9 L1811.9,477.4 L1813.5,480.0 L1815.0,482.6 L1816.4,485.2 L1817.9,487.8 L1819.4,490.4 L1820.9,493.0 L1822.3,495.6 L1823.7,498.2 L1825.2,500.9 L1826.6,503.5 L1828.0,506.1 L1829.4,508.8 L1830.8,511.4 L1832.1,514.1 L1833.5,516.8 L1834.8,519.5 L1836.2,522.1 L1837.5,524.8 L1838.8,527.5 L1840.1,530.2 L1841.4,532.9 L1842.7,535.6 L1844.0,538.3 L1845.3,541.1 L1846.5,543.8 L1847.8,546.5 L1849.0,549.3 L1850.2,552.0 L1851.5,554.7 L1852.7,557.5 L1853.9,560.2 L1855.1,563.0 L1856.3,565.8 L1857.4,568.5 L1858.6,571.3 L1859.8,574.1 L1860.9,576.9 L1862.0,579.6 L1863.2,582.4 L1864.3,585.2 L1865.4,588.0 L1866.5,590.8 L1867.6,593.6 L1868.7,596.4 L1869.8,599.2 L1870.9,602.0 L1871.9,604.8 L1873.0,607.6 L1874.0,610.4 L1875.1,613.2 L1876.1,616.0 L1877.1,618.9 L1878.2,621.7 L1879.2,624.5 L1880.2,627.3 L1881.2,630.1 L1882.2,633.0 L1883.2,635.8 L1884.1,638.6 L1885.1,641.4 L1886.1,644.3 L1887.0,647.1 L1888.0,649.9 L1888.9,652.8 L1889.9,655.6 L1890.8,658.4 L1891.7,661.3 L1892.7,664.1 L1893.6,666.9 L1894.5,669.8 L1895.4,672.6 L1896.3,675.4 L1897.2,678.3 L1898.1,681.1 L1899.0,684.0 L1899.9,686.8 L1900.8,689.7 L1901.7,692.5 L1902.6,695.3 L1903.5,698.2 L1904.4,701.0 L1905.2,703.9 L1906.1,706.7 L1907.0,709.6 L1907.9,712.4 L1908.8,715.3 L1909.6,718.1 L1910.5,721.0 L1911.4,723.8 L1912.3,726.7 L1913.1,729.6 L1914.0,732.4 L1914.9,735.3 L1915.8,738.1 L1916.6,741.0 L1917.5,743.8 L1918.4,746.7 L1919.3,749.6 L1920.2,752.4 L1921.1,755.3 L1922.0,758.1 L1922.9,761.0 L1923.7,763.9 L1924.6,766.7 L1925.5,769.6 L1926.4,772.5 L1927.3,775.3 L1928.2,778.2 L1929.0,781.1 L1929.9,783.9 L1930.8,786.8 L1931.6,789.7 L1932.5,792.6 L1933.3,795.5 L1934.1,798.3 L1934.9,801.2 L1935.7,804.1 L1936.5,807.0 L1937.3,809.9 L1938.1,812.8 L1938.8,815.7 L1939.5,818.6 L1940.2,821.5 L1940.9,824.4 L1941.6,827.3 L1942.3,830.2 L1942.9,833.1 L1943.5,836.0" stroke="#57514b"/>
<path d="M1172.0,215.0 L1174.5,216.6 L1177.0,218.3 L1179.5,219.9 L1182.0,221.6 L1184.5,223.3 L1186.9,224.9 L1189.4,226.6 L1191.9,228.3 L1194.3,230.0 L1196.8,231.7 L1199.2,233.5 L1201.6,235.2 L1204.1,236.9 L1206.5,238.7 L1208.9,240.4 L1211.4,242.2 L1213.8,244.0 L1216.2,245.8 L1218.6,247.5 L1221.0,249.3 L1223.4,251.1 L1225.7,252.9 L1228.1,254.8 L1230.5,256.6 L1232.9,258.4 L1235.2,260.3 L1237.6,262.1 L1240.0,264.0 L1242.3,265.8 L1244.7,267.7 L1247.0,269.6 L1249.3,271.4 L1251.7,273.3 L1254.0,275.2 L1256.3,277.1 L1258.6,279.0 L1260.9,280.9 L1263.2,282.9 L1265.5,284.8 L1267.8,286.7 L1270.1,288.7 L1272.4,290.6 L1274.7,292.6 L1277.0,294.5 L1279.2,296.5 L1281.5,298.4 L1283.8,300.4 L1286.0,302.4 L1288.3,304.4 L1290.5,306.4 L1292.8,308.4 L1295.0,310.4 L1297.3,312.4 L1299.5,314.4 L1301.7,316.4 L1303.9,318.4 L1306.1,320.4 L1308.4,322.5 L1310.6,324.5 L1312.8,326.5 L1315.0,328.6 L1317.2,330.6 L1319.3,332.7 L1321.5,334.7 L1323.7,336.8 L1325.9,338.9 L1328.1,340.9 L1330.2,343.0 L1332.4,345.1 L1334.5,347.2 L1336.7,349.2 L1338.8,351.3 L1341.0,353.4 L1343.1,355.5 L1345.3,357.6 L1347.4,359.7 L1349.5,361.8 L1351.6,363.9 L1353.8,366.0 L1355.9,368.2 L1358.0,370.3 L1360.1,372.4 L1362.2,374.5 L1364.3,376.6 L1366.4,378.8 L1368.5,380.9 L1370.6,383.0 L1372.7,385.2 L1374.8,387.3 L1376.9,389.4 L1379.0,391.6 L1381.1,393.7 L1383.1,395.8 L1385.2,398.0 L1387.3,400.1 L1389.4,402.2 L1391.5,404.4 L1393.6,406.5 L1395.7,408.6 L1397.8,410.7 L1399.9,412.9 L1402.0,415.0 L1404.1,417.1 L1406.2,419.2 L1408.3,421.4 L1410.5,423.5 L1412.6,425.6 L1414.7,427.7 L1416.8,429.8 L1419.0,431.9 L1421.1,434.0 L1423.3,436.1 L1425.4,438.2 L1427.6,440.2 L1429.8,442.3 L1432.0,444.4 L1434.1,446.5 L1436.3,448.5 L1438.5,450.6 L1440.8,452.6 L1443.0,454.7 L1445.2,456.7 L1447.4,458.7 L1449.7,460.8 L1451.9,462.8 L1454.1,464.9 L1456.3,466.9 L1458.5,469.0 L1460.7,471.1 L1462.9,473.2 L1465.0,475.3 L1467.1,477.4 L1469.2,479.5 L1471.3,481.7 L1473.3,483.9 L1475.3,486.1 L1477.3,488.3 L1479.3,490.5 L1481.2,492.8 L1483.1,495.1 L1485.0,497.4 L1486.8,499.7 L1488.7,502.0 L1490.5,504.4 L1492.2,506.8 L1494.0,509.2 L1495.7,511.6 L1497.4,514.0 L1499.1,516.5 L1500.7,519.0 L1502.4,521.4 L1504.0,524.0 L1505.6,526.5 L1507.1,529.0 L1508.7,531.6 L1510.2,534.2 L1511.7,536.8 L1513.1,539.4 L1514.6,542.0 L1516.0,544.6 L1517.4,547.3 L1518.8,550.0 L1520.2,552.6 L1521.5,555.3 L1522.8,558.1 L1524.1,560.8 L1525.4,563.5 L1526.6,566.3 L1527.8,569.0 L1529.0,571.8 L1530.2,574.6 L1531.3,577.4 L1532.5,580.2 L1533.6,583.0 L1534.6,585.8 L1535.7,588.7 L1536.7,591.5 L1537.7,594.3 L1538.7,597.2 L1539.6,600.1 L1540.6,602.9 L1541.5,605.8 L1542.4,608.7 L1543.2,611.6 L1544.0,614.5 L1544.8,617.4 L1545.6,620.3 L1546.3,623.2 L1547.1,626.1 L1547.8,629.0 L1548.4,631.9 L1549.1,634.9 L1549.7,637.8 L1550.3,640.7 L1550.9,643.6 L1551.4,646.6 L1552.0,649.5 L1552.5,652.4 L1553.0,655.4 L1553.5,658.3 L1554.0,661.3 L1554.5,664.2 L1554.9,667.2 L1555.3,670.1 L1555.8,673.1 L1556.2,676.0 L1556.6,679.0 L1557.0,681.9 L1557.4,684.9 L1557.8,687.8 L1558.2,690.8 L1558.6,693.8 L1559.0,696.7 L1559.4,699.7 L1559.8,702.7 L1560.2,705.6 L1560.5,708.6 L1560.9,711.5 L1561.3,714.5 L1561.8,717.5 L1562.2,720.4 L1562.6,723.4 L1563.0,726.4 L1563.5,729.3 L1563.9,732.3 L1564.4,735.3 L1564.8,738.2 L1565.3,741.2 L1565.8,744.2 L1566.2,747.1 L1566.7,750.1 L1567.2,753.0 L1567.7,756.0 L1568.2,759.0 L1568.6,761.9 L1569.1,764.9 L1569.6,767.9 L1570.1,770.8 L1570.6,773.8 L1571.1,776.8 L1571.6,779.7 L1572.1,782.7 L1572.6,785.6 L1573.0,788.6 L1573.5,791.6 L1574.0,794.5 L1574.5,797.5 L1574.9,800.5 L1575.4,803.4 L1575.9,806.4 L1576.3,809.3 L1576.8,812.3 L1577.2,815.3 L1577.6,818.2 L1578.0,821.2 L1578.5,824.2 L1578.9,827.1 L1579.2,830.1 L1579.6,833.0 L1580.0,836.0" stroke="#fe4b43"/>
<path d="M1172.0,124.5 L1174.8,125.5 L1177.6,126.5 L1180.5,127.5 L1183.3,128.5 L1186.1,129.5 L1188.9,130.6 L1191.7,131.6 L1194.5,132.6 L1197.4,133.7 L1200.2,134.7 L1203.0,135.8 L1205.8,136.8 L1208.6,137.9 L1211.4,138.9 L1214.2,140.0 L1217.0,141.0 L1219.8,142.1 L1222.6,143.2 L1225.4,144.3 L1228.2,145.3 L1230.9,146.4 L1233.7,147.5 L1236.5,148.6 L1239.3,149.7 L1242.1,150.8 L1244.9,151.9 L1247.7,153.0 L1250.4,154.1 L1253.2,155.2 L1256.0,156.3 L1258.8,157.4 L1261.6,158.6 L1264.3,159.7 L1267.1,160.8 L1269.9,161.9 L1272.7,163.0 L1275.4,164.2 L1278.2,165.3 L1281.0,166.4 L1283.7,167.6 L1286.5,168.7 L1289.3,169.9 L1292.0,171.0 L1294.8,172.1 L1297.6,173.3 L1300.3,174.4 L1303.1,175.6 L1305.9,176.7 L1308.6,177.9 L1311.4,179.0 L1314.2,180.2 L1316.9,181.3 L1319.7,182.5 L1322.4,183.7 L1325.2,184.8 L1328.0,186.0 L1330.7,187.1 L1333.5,188.3 L1336.3,189.5 L1339.0,190.6 L1341.8,191.8 L1344.5,193.0 L1347.3,194.1 L1350.1,195.3 L1352.8,196.4 L1355.6,197.6 L1358.3,198.8 L1361.1,199.9 L1363.9,201.1 L1366.6,202.3 L1369.4,203.4 L1372.1,204.6 L1374.9,205.8 L1377.7,206.9 L1380.4,208.1 L1383.2,209.3 L1385.9,210.4 L1388.7,211.6 L1391.5,212.7 L1394.2,213.9 L1397.0,215.1 L1399.8,216.2 L1402.5,217.4 L1405.3,218.5 L1408.1,219.7 L1410.8,220.9 L1413.6,222.0 L1416.4,223.2 L1419.1,224.3 L1421.9,225.5 L1424.7,226.6 L1427.4,227.8 L1430.2,228.9 L1433.0,230.0 L1435.8,231.2 L1438.5,232.3 L1441.3,233.5 L1444.1,234.6 L1446.9,235.7 L1449.6,236.8 L1452.4,238.0 L1455.2,239.1 L1458.0,240.2 L1460.8,241.3 L1463.6,242.5 L1466.4,243.6 L1469.1,244.7 L1471.9,245.8 L1474.7,246.9 L1477.5,248.0 L1480.2,249.2 L1483.0,250.4 L1485.7,251.6 L1488.3,253.0 L1491.0,254.3 L1493.5,255.8 L1496.0,257.4 L1498.5,259.0 L1500.8,260.7 L1503.2,262.6 L1505.5,264.4 L1507.8,266.3 L1510.0,268.3 L1512.2,270.3 L1514.4,272.4 L1516.6,274.4 L1518.8,276.5 L1520.9,278.6 L1523.1,280.7 L1525.3,282.8 L1527.5,284.9 L1529.7,286.9 L1531.9,289.0 L1534.1,291.1 L1536.3,293.1 L1538.5,295.1 L1540.7,297.2 L1542.9,299.2 L1545.2,301.2 L1547.4,303.2 L1549.6,305.1 L1551.9,307.1 L1554.1,309.1 L1556.4,311.0 L1558.7,312.8 L1561.0,314.7 L1563.3,316.4 L1565.7,318.2 L1568.1,319.8 L1570.5,321.4 L1573.0,322.9 L1575.5,324.3 L1578.0,325.7 L1580.6,327.1 L1583.1,328.4 L1585.7,329.8 L1588.2,331.2 L1590.7,332.6 L1593.2,334.2 L1595.6,335.8 L1598.0,337.5 L1600.3,339.3 L1602.5,341.2 L1604.7,343.2 L1606.9,345.3 L1608.9,347.5 L1611.0,349.7 L1612.9,352.1 L1614.8,354.5 L1616.6,357.0 L1618.4,359.5 L1620.1,362.1 L1621.7,364.7 L1623.2,367.3 L1624.7,370.0 L1626.1,372.7 L1627.4,375.4 L1628.7,378.1 L1629.9,380.8 L1631.0,383.6 L1632.1,386.4 L1633.1,389.2 L1634.1,392.0 L1635.0,394.8 L1635.9,397.6 L1636.8,400.5 L1637.6,403.4 L1638.3,406.2 L1639.1,409.1 L1639.8,412.0 L1640.5,414.9 L1641.1,417.8 L1641.8,420.7 L1642.4,423.7 L1643.0,426.6 L1643.6,429.5 L1644.2,432.5 L1644.7,435.4 L1645.3,438.3 L1645.8,441.3 L1646.4,444.2 L1646.9,447.1 L1647.4,450.1 L1647.9,453.0 L1648.4,456.0 L1648.9,458.9 L1649.4,461.9 L1649.9,464.8 L1650.4,467.8 L1650.9,470.8 L1651.3,473.7 L1651.8,476.7 L1652.2,479.6 L1652.7,482.6 L1653.1,485.6 L1653.5,488.5 L1654.0,491.5 L1654.4,494.5 L1654.8,497.4 L1655.2,500.4 L1655.6,503.4 L1656.0,506.3 L1656.4,509.3 L1656.8,512.3 L1657.2,515.3 L1657.6,518.2 L1658.0,521.2 L1658.4,524.2 L1658.7,527.2 L1659.1,530.1 L1659.5,533.1 L1659.9,536.1 L1660.3,539.1 L1660.6,542.0 L1661.0,545.0 L1661.4,548.0 L1661.7,551.0 L1662.1,553.9 L1662.5,556.9 L1662.9,559.9 L1663.2,562.9 L1663.6,565.8 L1664.0,568.8 L1664.4,571.8 L1664.7,574.8 L1665.1,577.7 L1665.5,580.7 L1665.9,583.7 L1666.3,586.7 L1666.6,589.6 L1667.0,592.6 L1667.4,595.6 L1667.8,598.5 L1668.2,601.5 L1668.6,604.5 L1668.9,607.5 L1669.3,610.4 L1669.7,613.4 L1670.1,616.4 L1670.5,619.3 L1670.9,622.3 L1671.3,625.3 L1671.6,628.3 L1672.0,631.2 L1672.4,634.2 L1672.8,637.2 L1673.2,640.1 L1673.6,643.1 L1674.0,646.1 L1674.4,649.0 L1674.8,652.0 L1675.2,655.0 L1675.6,657.9 L1675.9,660.9 L1676.3,663.9 L1676.7,666.9 L1677.1,669.8 L1677.5,672.8 L1677.9,675.8 L1678.3,678.7 L1678.7,681.7 L1679.1,684.7 L1679.5,687.6 L1679.9,690.6 L1680.3,693.6 L1680.7,696.5 L1681.1,699.5 L1681.5,702.5 L1681.9,705.4 L1682.3,708.4 L1682.7,711.4 L1683.1,714.3 L1683.5,717.3 L1683.9,720.3 L1684.3,723.2 L1684.7,726.2 L1685.2,729.2 L1685.6,732.1 L1686.0,735.1 L1686.4,738.1 L1686.8,741.0 L1687.2,744.0 L1687.6,747.0 L1688.0,749.9 L1688.4,752.9 L1688.8,755.9 L1689.2,758.8 L1689.6,761.8 L1690.0,764.8 L1690.5,767.7 L1690.9,770.7 L1691.3,773.7 L1691.7,776.6 L1692.1,779.6 L1692.5,782.6 L1692.9,785.5 L1693.3,788.5 L1693.8,791.5 L1694.2,794.4 L1694.6,797.4 L1695.0,800.4 L1695.4,803.3 L1695.8,806.3 L1696.2,809.3 L1696.7,812.3 L1697.1,815.2 L1697.5,818.2 L1697.9,821.2 L1698.3,824.1 L1698.7,827.1 L1699.2,830.1 L1699.6,833.0 L1700.0,836.0" stroke="#2567a6"/>
<path d="M1172.0,146.5 L1174.8,147.7 L1177.6,148.9 L1180.3,150.1 L1183.1,151.3 L1185.9,152.5 L1188.7,153.7 L1191.4,154.8 L1194.2,156.0 L1197.0,157.2 L1199.8,158.3 L1202.5,159.5 L1205.3,160.6 L1208.1,161.8 L1210.9,162.9 L1213.7,164.1 L1216.4,165.2 L1219.2,166.3 L1222.0,167.4 L1224.8,168.6 L1227.5,169.7 L1230.3,170.8 L1233.1,171.9 L1235.9,173.0 L1238.7,174.1 L1241.4,175.2 L1244.2,176.2 L1247.0,177.3 L1249.8,178.4 L1252.6,179.5 L1255.3,180.5 L1258.1,181.6 L1260.9,182.7 L1263.7,183.7 L1266.5,184.8 L1269.3,185.8 L1272.1,186.9 L1274.9,187.9 L1277.6,188.9 L1280.4,190.0 L1283.2,191.0 L1286.0,192.0 L1288.8,193.0 L1291.6,194.1 L1294.4,195.1 L1297.2,196.1 L1300.0,197.1 L1302.8,198.1 L1305.6,199.1 L1308.4,200.1 L1311.2,201.1 L1314.0,202.1 L1316.8,203.0 L1319.7,204.0 L1322.5,205.0 L1325.3,206.0 L1328.1,206.9 L1330.9,207.9 L1333.7,208.9 L1336.5,209.8 L1339.4,210.8 L1342.2,211.7 L1345.0,212.7 L1347.8,213.6 L1350.7,214.6 L1353.5,215.5 L1356.3,216.4 L1359.2,217.4 L1362.0,218.3 L1364.9,219.2 L1367.7,220.2 L1370.5,221.1 L1373.4,222.0 L1376.2,222.9 L1379.1,223.8 L1381.9,224.7 L1384.8,225.6 L1387.7,226.5 L1390.5,227.4 L1393.4,228.3 L1396.2,229.2 L1399.1,230.1 L1402.0,231.0 L1404.9,231.9 L1407.7,232.8 L1410.6,233.7 L1413.5,234.6 L1416.4,235.5 L1419.3,236.3 L1422.2,237.2 L1425.1,238.1 L1428.0,238.9 L1430.9,239.8 L1433.8,240.7 L1436.7,241.5 L1439.6,242.4 L1442.5,243.3 L1445.4,244.1 L1448.3,245.0 L1451.2,245.9 L1454.1,246.8 L1457.0,247.7 L1459.9,248.6 L1462.8,249.5 L1465.7,250.4 L1468.5,251.4 L1471.4,252.3 L1474.3,253.3 L1477.1,254.3 L1479.9,255.3 L1482.8,256.3 L1485.6,257.3 L1488.4,258.4 L1491.2,259.5 L1494.0,260.6 L1496.7,261.7 L1499.5,262.9 L1502.2,264.1 L1504.9,265.3 L1507.6,266.5 L1510.3,267.8 L1513.0,269.1 L1515.6,270.5 L1518.3,271.9 L1520.9,273.3 L1523.4,274.7 L1526.0,276.2 L1528.5,277.7 L1531.0,279.3 L1533.5,280.9 L1536.0,282.6 L1538.4,284.3 L1540.8,286.0 L1543.2,287.8 L1545.5,289.6 L1547.8,291.5 L1550.1,293.4 L1552.3,295.4 L1554.6,297.4 L1556.7,299.4 L1558.9,301.5 L1561.0,303.6 L1563.0,305.7 L1565.1,307.9 L1567.0,310.1 L1569.0,312.4 L1570.9,314.7 L1572.7,317.0 L1574.6,319.4 L1576.3,321.8 L1578.0,324.2 L1579.7,326.6 L1581.3,329.1 L1582.9,331.6 L1584.4,334.1 L1585.9,336.7 L1587.3,339.3 L1588.7,341.9 L1590.0,344.6 L1591.3,347.2 L1592.5,349.9 L1593.6,352.6 L1594.8,355.4 L1595.8,358.1 L1596.8,360.9 L1597.8,363.7 L1598.8,366.5 L1599.7,369.3 L1600.5,372.2 L1601.3,375.0 L1602.1,377.9 L1602.9,380.8 L1603.6,383.7 L1604.3,386.6 L1604.9,389.6 L1605.5,392.5 L1606.1,395.4 L1606.7,398.4 L1607.3,401.4 L1607.8,404.3 L1608.3,407.3 L1608.8,410.3 L1609.3,413.3 L1609.7,416.3 L1610.2,419.3 L1610.6,422.3 L1611.0,425.3 L1611.4,428.3 L1611.8,431.3 L1612.2,434.3 L1612.6,437.3 L1612.9,440.3 L1613.3,443.3 L1613.7,446.3 L1614.0,449.3 L1614.4,452.3 L1614.7,455.3 L1615.1,458.2 L1615.4,461.2 L1615.7,464.2 L1616.1,467.2 L1616.4,470.2 L1616.7,473.2 L1617.0,476.2 L1617.3,479.1 L1617.6,482.1 L1617.9,485.1 L1618.2,488.1 L1618.5,491.1 L1618.8,494.0 L1619.1,497.0 L1619.4,500.0 L1619.6,503.0 L1619.9,505.9 L1620.2,508.9 L1620.5,511.9 L1620.7,514.9 L1621.0,517.8 L1621.3,520.8 L1621.5,523.8 L1621.8,526.8 L1622.1,529.7 L1622.3,532.7 L1622.6,535.7 L1622.8,538.6 L1623.1,541.6 L1623.4,544.6 L1623.6,547.6 L1623.9,550.5 L1624.1,553.5 L1624.4,556.5 L1624.6,559.4 L1624.9,562.4 L1625.2,565.4 L1625.4,568.4 L1625.7,571.3 L1625.9,574.3 L1626.2,577.3 L1626.5,580.2 L1626.7,583.2 L1627.0,586.2 L1627.3,589.2 L1627.6,592.1 L1627.8,595.1 L1628.1,598.1 L1628.4,601.1 L1628.7,604.0 L1628.9,607.0 L1629.2,610.0 L1629.5,613.0 L1629.8,615.9 L1630.1,618.9 L1630.4,621.9 L1630.7,624.9 L1631.0,627.9 L1631.3,630.8 L1631.6,633.8 L1631.9,636.8 L1632.2,639.8 L1632.5,642.7 L1632.8,645.7 L1633.1,648.7 L1633.4,651.7 L1633.7,654.7 L1634.0,657.6 L1634.4,660.6 L1634.7,663.6 L1635.0,666.6 L1635.3,669.6 L1635.6,672.5 L1636.0,675.5 L1636.3,678.5 L1636.6,681.5 L1636.9,684.5 L1637.3,687.4 L1637.6,690.4 L1638.0,693.4 L1638.3,696.4 L1638.6,699.4 L1639.0,702.3 L1639.3,705.3 L1639.7,708.3 L1640.0,711.3 L1640.3,714.3 L1640.7,717.2 L1641.0,720.2 L1641.4,723.2 L1641.8,726.2 L1642.1,729.1 L1642.5,732.1 L1642.8,735.1 L1643.2,738.1 L1643.6,741.1 L1643.9,744.0 L1644.3,747.0 L1644.7,750.0 L1645.0,753.0 L1645.4,755.9 L1645.8,758.9 L1646.1,761.9 L1646.5,764.8 L1646.9,767.8 L1647.3,770.8 L1647.7,773.8 L1648.0,776.7 L1648.4,779.7 L1648.8,782.7 L1649.2,785.6 L1649.6,788.6 L1650.0,791.6 L1650.4,794.5 L1650.8,797.5 L1651.2,800.5 L1651.5,803.4 L1651.9,806.4 L1652.3,809.4 L1652.7,812.3 L1653.1,815.3 L1653.6,818.2 L1654.0,821.2 L1654.4,824.2 L1654.8,827.1 L1655.2,830.1 L1655.6,833.0 L1656.0,836.0" stroke="#02a660"/>
<path d="M1172.0,136.0 L1174.8,137.0 L1177.7,137.9 L1180.5,138.9 L1183.3,139.8 L1186.1,140.8 L1189.0,141.7 L1191.8,142.7 L1194.7,143.6 L1197.5,144.6 L1200.3,145.5 L1203.2,146.5 L1206.0,147.4 L1208.9,148.3 L1211.7,149.3 L1214.6,150.2 L1217.4,151.1 L1220.3,152.1 L1223.1,153.0 L1226.0,153.9 L1228.8,154.8 L1231.7,155.7 L1234.5,156.7 L1237.4,157.6 L1240.3,158.5 L1243.1,159.4 L1246.0,160.3 L1248.9,161.2 L1251.7,162.1 L1254.6,163.0 L1257.5,163.9 L1260.3,164.8 L1263.2,165.7 L1266.1,166.6 L1268.9,167.5 L1271.8,168.4 L1274.7,169.2 L1277.6,170.1 L1280.4,171.0 L1283.3,171.9 L1286.2,172.7 L1289.1,173.6 L1292.0,174.5 L1294.8,175.3 L1297.7,176.2 L1300.6,177.0 L1303.5,177.9 L1306.4,178.8 L1309.2,179.6 L1312.1,180.4 L1315.0,181.3 L1317.9,182.1 L1320.8,183.0 L1323.7,183.8 L1326.6,184.6 L1329.5,185.4 L1332.3,186.3 L1335.2,187.1 L1338.1,187.9 L1341.0,188.7 L1343.9,189.5 L1346.8,190.3 L1349.7,191.1 L1352.6,191.9 L1355.5,192.7 L1358.4,193.5 L1361.3,194.3 L1364.2,195.1 L1367.0,195.9 L1369.9,196.6 L1372.8,197.4 L1375.7,198.2 L1378.6,199.0 L1381.5,199.7 L1384.4,200.5 L1387.3,201.2 L1390.2,202.0 L1393.1,202.7 L1396.0,203.5 L1398.9,204.2 L1401.8,205.0 L1404.7,205.7 L1407.6,206.4 L1410.5,207.2 L1413.3,207.9 L1416.2,208.6 L1419.1,209.3 L1422.0,210.0 L1424.9,210.7 L1427.8,211.4 L1430.7,212.1 L1433.6,212.8 L1436.5,213.5 L1439.4,214.2 L1442.3,214.9 L1445.2,215.6 L1448.1,216.3 L1450.9,217.0 L1453.8,217.7 L1456.7,218.4 L1459.6,219.1 L1462.5,219.8 L1465.4,220.6 L1468.3,221.3 L1471.2,222.1 L1474.1,222.9 L1476.9,223.7 L1479.8,224.5 L1482.7,225.3 L1485.6,226.2 L1488.5,227.0 L1491.4,227.9 L1494.3,228.9 L1497.2,229.8 L1500.1,230.8 L1502.9,231.8 L1505.8,232.8 L1508.7,233.9 L1511.6,235.0 L1514.5,236.1 L1517.4,237.3 L1520.3,238.5 L1523.1,239.7 L1526.0,241.0 L1528.8,242.3 L1531.6,243.7 L1534.3,245.2 L1537.0,246.7 L1539.6,248.3 L1542.2,249.9 L1544.7,251.6 L1547.1,253.4 L1549.4,255.3 L1551.6,257.2 L1553.6,259.3 L1555.5,261.4 L1557.3,263.7 L1558.9,266.0 L1560.4,268.5 L1561.7,271.0 L1563.0,273.5 L1564.1,276.2 L1565.1,278.9 L1566.0,281.6 L1566.9,284.4 L1567.7,287.3 L1568.4,290.2 L1569.1,293.1 L1569.7,296.0 L1570.3,299.0 L1570.9,301.9 L1571.5,304.9 L1572.0,307.8 L1572.6,310.8 L1573.1,313.7 L1573.6,316.7 L1574.2,319.7 L1574.7,322.6 L1575.2,325.6 L1575.7,328.6 L1576.1,331.5 L1576.6,334.5 L1577.1,337.5 L1577.5,340.4 L1578.0,343.4 L1578.4,346.4 L1578.9,349.4 L1579.3,352.3 L1579.7,355.3 L1580.1,358.3 L1580.5,361.3 L1580.9,364.2 L1581.3,367.2 L1581.7,370.2 L1582.1,373.2 L1582.5,376.1 L1582.9,379.1 L1583.3,382.1 L1583.7,385.1 L1584.1,388.1 L1584.4,391.0 L1584.8,394.0 L1585.2,397.0 L1585.6,400.0 L1585.9,403.0 L1586.3,405.9 L1586.7,408.9 L1587.1,411.9 L1587.4,414.9 L1587.8,417.9 L1588.2,420.8 L1588.6,423.8 L1588.9,426.8 L1589.3,429.8 L1589.7,432.7 L1590.1,435.7 L1590.5,438.7 L1590.8,441.7 L1591.2,444.6 L1591.6,447.6 L1592.0,450.6 L1592.4,453.6 L1592.8,456.5 L1593.2,459.5 L1593.6,462.5 L1594.0,465.5 L1594.4,468.4 L1594.8,471.4 L1595.2,474.4 L1595.6,477.3 L1596.0,480.3 L1596.4,483.3 L1596.8,486.3 L1597.2,489.2 L1597.6,492.2 L1598.1,495.2 L1598.5,498.1 L1598.9,501.1 L1599.3,504.1 L1599.7,507.0 L1600.1,510.0 L1600.5,513.0 L1601.0,516.0 L1601.4,518.9 L1601.8,521.9 L1602.2,524.9 L1602.7,527.8 L1603.1,530.8 L1603.5,533.8 L1603.9,536.7 L1604.4,539.7 L1604.8,542.7 L1605.2,545.6 L1605.6,548.6 L1606.1,551.6 L1606.5,554.5 L1606.9,557.5 L1607.4,560.5 L1607.8,563.4 L1608.2,566.4 L1608.7,569.4 L1609.1,572.3 L1609.5,575.3 L1610.0,578.3 L1610.4,581.2 L1610.8,584.2 L1611.3,587.2 L1611.7,590.1 L1612.2,593.1 L1612.6,596.1 L1613.0,599.0 L1613.5,602.0 L1613.9,605.0 L1614.4,607.9 L1614.8,610.9 L1615.2,613.9 L1615.7,616.8 L1616.1,619.8 L1616.6,622.8 L1617.0,625.7 L1617.5,628.7 L1617.9,631.7 L1618.4,634.6 L1618.8,637.6 L1619.3,640.6 L1619.7,643.5 L1620.2,646.5 L1620.6,649.5 L1621.1,652.4 L1621.5,655.4 L1622.0,658.4 L1622.5,661.3 L1622.9,664.3 L1623.4,667.3 L1623.8,670.2 L1624.3,673.2 L1624.7,676.2 L1625.2,679.1 L1625.7,682.1 L1626.1,685.1 L1626.6,688.0 L1627.1,691.0 L1627.5,694.0 L1628.0,696.9 L1628.5,699.9 L1628.9,702.8 L1629.4,705.8 L1629.9,708.8 L1630.3,711.7 L1630.8,714.7 L1631.3,717.7 L1631.8,720.6 L1632.2,723.6 L1632.7,726.5 L1633.2,729.5 L1633.7,732.5 L1634.1,735.4 L1634.6,738.4 L1635.1,741.4 L1635.6,744.3 L1636.1,747.3 L1636.5,750.2 L1637.0,753.2 L1637.5,756.2 L1638.0,759.1 L1638.5,762.1 L1639.0,765.0 L1639.5,768.0 L1640.0,771.0 L1640.4,773.9 L1640.9,776.9 L1641.4,779.8 L1641.9,782.8 L1642.4,785.8 L1642.9,788.7 L1643.4,791.7 L1643.9,794.6 L1644.4,797.6 L1644.9,800.5 L1645.4,803.5 L1645.9,806.5 L1646.4,809.4 L1646.9,812.4 L1647.4,815.3 L1647.9,818.3 L1648.4,821.2 L1649.0,824.2 L1649.5,827.1 L1650.0,830.1 L1650.5,833.0 L1651.0,836.0" stroke="#9d76ae"/>
<path d="M1172.0,212.0 L1174.8,213.0 L1177.7,214.0 L1180.5,215.0 L1183.3,216.0 L1186.2,217.0 L1189.0,218.0 L1191.8,218.9 L1194.7,219.9 L1197.5,220.9 L1200.3,221.9 L1203.2,222.9 L1206.0,223.9 L1208.8,224.8 L1211.7,225.8 L1214.5,226.8 L1217.3,227.8 L1220.2,228.7 L1223.0,229.7 L1225.8,230.7 L1228.7,231.6 L1231.5,232.6 L1234.3,233.6 L1237.2,234.5 L1240.0,235.5 L1242.8,236.4 L1245.7,237.4 L1248.5,238.3 L1251.3,239.2 L1254.2,240.2 L1257.0,241.1 L1259.8,242.0 L1262.7,242.9 L1265.5,243.9 L1268.4,244.8 L1271.2,245.7 L1274.1,246.6 L1276.9,247.5 L1279.7,248.4 L1282.6,249.2 L1285.4,250.1 L1288.3,251.0 L1291.1,251.9 L1294.0,252.7 L1296.9,253.6 L1299.7,254.4 L1302.6,255.3 L1305.4,256.1 L1308.3,256.9 L1311.2,257.8 L1314.0,258.6 L1316.9,259.4 L1319.8,260.2 L1322.6,261.0 L1325.5,261.8 L1328.4,262.5 L1331.3,263.3 L1334.1,264.1 L1337.0,264.8 L1339.9,265.6 L1342.8,266.3 L1345.7,267.1 L1348.6,267.8 L1351.5,268.5 L1354.4,269.2 L1357.3,269.9 L1360.2,270.6 L1363.1,271.3 L1366.0,271.9 L1368.9,272.6 L1371.8,273.2 L1374.8,273.9 L1377.7,274.5 L1380.6,275.1 L1383.5,275.7 L1386.5,276.3 L1389.4,276.9 L1392.3,277.5 L1395.3,278.0 L1398.2,278.6 L1401.2,279.1 L1404.1,279.7 L1407.1,280.2 L1410.0,280.7 L1413.0,281.2 L1416.0,281.7 L1419.0,282.2 L1421.9,282.6 L1424.9,283.1 L1427.9,283.5 L1430.9,284.0 L1433.9,284.4 L1436.9,284.8 L1439.9,285.2 L1442.9,285.6 L1445.9,286.0 L1448.9,286.3 L1451.9,286.7 L1454.9,287.1 L1457.9,287.5 L1460.9,288.0 L1463.9,288.4 L1466.9,288.8 L1469.8,289.3 L1472.8,289.8 L1475.8,290.3 L1478.7,290.8 L1481.7,291.4 L1484.6,291.9 L1487.6,292.5 L1490.5,293.2 L1493.4,293.9 L1496.3,294.6 L1499.2,295.4 L1502.0,296.2 L1504.9,297.0 L1507.7,297.9 L1510.5,298.9 L1513.3,299.9 L1516.1,300.9 L1518.9,302.1 L1521.7,303.2 L1524.4,304.5 L1527.1,305.8 L1529.8,307.1 L1532.4,308.6 L1535.0,310.1 L1537.6,311.7 L1540.1,313.3 L1542.5,315.1 L1544.8,316.9 L1547.1,318.8 L1549.3,320.8 L1551.3,322.8 L1553.2,325.0 L1555.1,327.2 L1556.7,329.5 L1558.3,331.9 L1559.7,334.4 L1560.9,337.0 L1562.1,339.6 L1563.1,342.4 L1564.1,345.1 L1564.9,347.9 L1565.7,350.8 L1566.5,353.7 L1567.2,356.6 L1567.8,359.6 L1568.4,362.6 L1569.0,365.5 L1569.6,368.5 L1570.2,371.5 L1570.8,374.4 L1571.4,377.4 L1572.0,380.4 L1572.6,383.3 L1573.2,386.3 L1573.8,389.2 L1574.3,392.2 L1574.9,395.2 L1575.5,398.1 L1576.1,401.0 L1576.7,404.0 L1577.3,406.9 L1577.8,409.9 L1578.4,412.8 L1579.0,415.8 L1579.6,418.7 L1580.1,421.7 L1580.7,424.6 L1581.2,427.5 L1581.8,430.5 L1582.4,433.4 L1582.9,436.4 L1583.4,439.3 L1584.0,442.2 L1584.5,445.2 L1585.1,448.1 L1585.6,451.0 L1586.1,454.0 L1586.6,456.9 L1587.1,459.9 L1587.6,462.8 L1588.1,465.7 L1588.6,468.7 L1589.1,471.6 L1589.6,474.6 L1590.1,477.5 L1590.5,480.5 L1591.0,483.4 L1591.5,486.4 L1591.9,489.3 L1592.4,492.3 L1592.8,495.2 L1593.2,498.2 L1593.7,501.2 L1594.1,504.1 L1594.5,507.1 L1594.9,510.0 L1595.3,513.0 L1595.8,516.0 L1596.2,518.9 L1596.6,521.9 L1597.0,524.9 L1597.4,527.8 L1597.8,530.8 L1598.2,533.8 L1598.6,536.7 L1599.0,539.7 L1599.4,542.7 L1599.8,545.6 L1600.2,548.6 L1600.6,551.6 L1601.0,554.5 L1601.4,557.5 L1601.8,560.5 L1602.2,563.4 L1602.6,566.4 L1603.0,569.4 L1603.4,572.3 L1603.8,575.3 L1604.2,578.3 L1604.7,581.2 L1605.1,584.2 L1605.5,587.2 L1606.0,590.1 L1606.4,593.1 L1606.8,596.0 L1607.3,599.0 L1607.8,602.0 L1608.2,604.9 L1608.7,607.9 L1609.2,610.8 L1609.7,613.8 L1610.1,616.7 L1610.6,619.7 L1611.1,622.6 L1611.7,625.6 L1612.2,628.5 L1612.7,631.5 L1613.3,634.4 L1613.8,637.3 L1614.4,640.3 L1614.9,643.2 L1615.5,646.1 L1616.1,649.1 L1616.7,652.0 L1617.3,654.9 L1617.9,657.9 L1618.5,660.8 L1619.1,663.7 L1619.7,666.6 L1620.3,669.6 L1620.9,672.5 L1621.6,675.4 L1622.2,678.3 L1622.8,681.2 L1623.5,684.2 L1624.1,687.1 L1624.8,690.0 L1625.4,692.9 L1626.1,695.8 L1626.7,698.7 L1627.4,701.7 L1628.1,704.6 L1628.7,707.5 L1629.4,710.4 L1630.1,713.3 L1630.7,716.2 L1631.4,719.1 L1632.1,722.0 L1632.7,725.0 L1633.4,727.9 L1634.1,730.8 L1634.8,733.7 L1635.4,736.6 L1636.1,739.5 L1636.8,742.4 L1637.4,745.3 L1638.1,748.2 L1638.8,751.2 L1639.4,754.1 L1640.1,757.0 L1640.7,759.9 L1641.4,762.8 L1642.0,765.7 L1642.7,768.6 L1643.3,771.6 L1644.0,774.5 L1644.6,777.4 L1645.2,780.3 L1645.9,783.2 L1646.5,786.2 L1647.1,789.1 L1647.7,792.0 L1648.3,794.9 L1648.9,797.8 L1649.5,800.8 L1650.1,803.7 L1650.7,806.6 L1651.2,809.6 L1651.8,812.5 L1652.4,815.4 L1652.9,818.4 L1653.4,821.3 L1654.0,824.2 L1654.5,827.2 L1655.0,830.1 L1655.5,833.1 L1656.0,836.0" stroke="#de8a21"/>
</g>
</svg></body></html>
